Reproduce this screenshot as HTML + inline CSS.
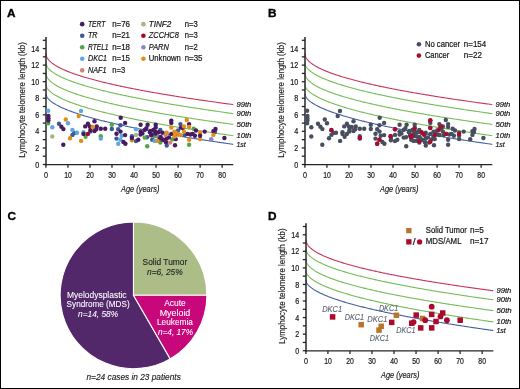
<!DOCTYPE html>
<html><head><meta charset="utf-8"><style>
html,body{margin:0;padding:0;background:#fff;}
svg{display:block;font-family:"Liberation Sans", sans-serif;will-change:transform;}
</style></head><body>
<svg width="520" height="389" viewBox="0 0 520 389">
<rect x="0" y="0" width="520" height="389" fill="#fff"/>
<text x="7.10" y="17.00" font-size="11.8" text-anchor="start" font-style="normal" font-weight="bold" fill="#000" stroke="#000" stroke-width="0.35">A</text>
<text x="267.90" y="17.30" font-size="11.8" text-anchor="start" font-style="normal" font-weight="bold" fill="#000" stroke="#000" stroke-width="0.35">B</text>
<text x="7.40" y="220.40" font-size="11.8" text-anchor="start" font-style="normal" font-weight="bold" fill="#000" stroke="#000" stroke-width="0.35">C</text>
<text x="267.90" y="219.90" font-size="11.8" text-anchor="start" font-style="normal" font-weight="bold" fill="#000" stroke="#000" stroke-width="0.35">D</text>
<path d="M46.00,53.32 L46.22,55.29 L46.44,56.07 L46.66,56.66 L46.88,57.16 L47.10,57.60 L47.32,57.99 L47.54,58.36 L47.76,58.69 L47.98,59.01 L48.20,59.30 L48.42,59.58 L48.64,59.85 L48.86,60.11 L49.08,60.36 L49.30,60.60 L49.52,60.83 L49.75,61.05 L49.97,61.27 L50.19,61.48 L50.41,61.68 L50.85,62.08 L51.76,62.84 L52.68,63.55 L53.60,64.20 L54.51,64.82 L55.43,65.40 L56.35,65.96 L57.26,66.49 L58.18,66.99 L59.10,67.48 L60.01,67.95 L60.93,68.41 L61.85,68.85 L62.76,69.28 L63.68,69.69 L64.60,70.10 L65.51,70.49 L66.43,70.88 L67.35,71.26 L68.26,71.62 L69.18,71.98 L70.10,72.34 L71.01,72.68 L71.93,73.02 L72.85,73.36 L73.76,73.69 L74.68,74.01 L75.60,74.32 L76.51,74.64 L77.43,74.94 L78.35,75.25 L79.26,75.54 L80.18,75.84 L81.10,76.13 L82.01,76.42 L82.93,76.70 L83.85,76.98 L84.76,77.25 L85.68,77.52 L86.59,77.79 L87.51,78.06 L88.43,78.32 L89.34,78.58 L90.26,78.84 L91.18,79.09 L92.09,79.34 L93.01,79.59 L93.93,79.84 L94.84,80.08 L95.76,80.32 L96.68,80.56 L97.59,80.80 L98.51,81.03 L99.43,81.27 L100.34,81.50 L101.26,81.73 L102.18,81.95 L103.09,82.18 L104.01,82.40 L104.93,82.62 L105.84,82.84 L106.76,83.06 L107.68,83.28 L108.59,83.49 L109.51,83.70 L110.43,83.91 L111.34,84.12 L112.26,84.33 L113.18,84.54 L114.09,84.74 L115.01,84.95 L115.93,85.15 L116.84,85.35 L117.76,85.55 L118.68,85.75 L119.59,85.95 L120.51,86.14 L121.43,86.34 L122.34,86.53 L123.26,86.72 L124.18,86.91 L125.09,87.10 L126.01,87.29 L126.93,87.48 L127.84,87.67 L128.76,87.85 L129.68,88.04 L130.59,88.22 L131.51,88.40 L132.43,88.58 L133.34,88.76 L134.26,88.94 L135.18,89.12 L136.09,89.30 L137.01,89.47 L137.93,89.65 L138.84,89.82 L139.76,90.00 L140.68,90.17 L141.59,90.34 L142.51,90.51 L143.43,90.68 L144.34,90.85 L145.26,91.02 L146.18,91.19 L147.09,91.36 L148.01,91.52 L148.93,91.69 L149.84,91.85 L150.76,92.02 L151.68,92.18 L152.59,92.34 L153.51,92.51 L154.43,92.67 L155.34,92.83 L156.26,92.99 L157.18,93.15 L158.09,93.31 L159.01,93.46 L159.92,93.62 L160.84,93.78 L161.76,93.93 L162.67,94.09 L163.59,94.24 L164.51,94.40 L165.42,94.55 L166.34,94.70 L167.26,94.85 L168.17,95.01 L169.09,95.16 L170.01,95.31 L170.92,95.46 L171.84,95.61 L172.76,95.75 L173.67,95.90 L174.59,96.05 L175.51,96.20 L176.42,96.34 L177.34,96.49 L178.26,96.63 L179.17,96.78 L180.09,96.92 L181.01,97.07 L181.92,97.21 L182.84,97.35 L183.76,97.50 L184.67,97.64 L185.59,97.78 L186.51,97.92 L187.42,98.06 L188.34,98.20 L189.26,98.34 L190.17,98.48 L191.09,98.62 L192.01,98.76 L192.92,98.89 L193.84,99.03 L194.76,99.17 L195.67,99.30 L196.59,99.44 L197.51,99.58 L198.42,99.71 L199.34,99.85 L200.26,99.98 L201.17,100.11 L202.09,100.25 L203.01,100.38 L203.92,100.51 L204.84,100.64 L205.76,100.78 L206.67,100.91 L207.59,101.04 L208.51,101.17 L209.42,101.30 L210.34,101.43 L211.26,101.56 L212.17,101.69 L213.09,101.82 L214.01,101.95 L214.92,102.07 L215.84,102.20 L216.76,102.33 L217.67,102.46 L218.59,102.58 L219.51,102.71 L220.42,102.83 L221.34,102.96 L222.26,103.09 L223.17,103.21 L224.09,103.33 L225.01,103.46 L225.92,103.58 L226.84,103.71 L227.76,103.83 L228.67,103.95 L229.59,104.08 L230.51,104.20 L231.42,104.32 L232.34,104.44 L233.25,104.56" fill="none" stroke="#c63658" stroke-width="1.1"/>
<path d="M46.00,62.73 L46.22,64.41 L46.44,65.12 L46.66,65.66 L46.88,66.12 L47.10,66.53 L47.32,66.89 L47.54,67.23 L47.76,67.54 L47.98,67.84 L48.20,68.12 L48.42,68.38 L48.64,68.64 L48.86,68.88 L49.08,69.11 L49.30,69.34 L49.52,69.56 L49.75,69.77 L49.97,69.98 L50.19,70.18 L50.41,70.38 L50.85,70.75 L51.76,71.49 L52.68,72.16 L53.60,72.80 L54.51,73.39 L55.43,73.96 L56.35,74.50 L57.26,75.02 L58.18,75.51 L59.10,75.99 L60.01,76.45 L60.93,76.90 L61.85,77.33 L62.76,77.75 L63.68,78.16 L64.60,78.56 L65.51,78.95 L66.43,79.33 L67.35,79.70 L68.26,80.07 L69.18,80.42 L70.10,80.77 L71.01,81.12 L71.93,81.46 L72.85,81.79 L73.76,82.11 L74.68,82.43 L75.60,82.75 L76.51,83.06 L77.43,83.37 L78.35,83.67 L79.26,83.97 L80.18,84.26 L81.10,84.55 L82.01,84.84 L82.93,85.12 L83.85,85.40 L84.76,85.68 L85.68,85.95 L86.59,86.22 L87.51,86.48 L88.43,86.75 L89.34,87.01 L90.26,87.27 L91.18,87.52 L92.09,87.78 L93.01,88.03 L93.93,88.28 L94.84,88.52 L95.76,88.76 L96.68,89.01 L97.59,89.24 L98.51,89.48 L99.43,89.72 L100.34,89.95 L101.26,90.18 L102.18,90.41 L103.09,90.64 L104.01,90.86 L104.93,91.09 L105.84,91.31 L106.76,91.53 L107.68,91.75 L108.59,91.97 L109.51,92.18 L110.43,92.40 L111.34,92.61 L112.26,92.82 L113.18,93.03 L114.09,93.24 L115.01,93.44 L115.93,93.65 L116.84,93.85 L117.76,94.06 L118.68,94.26 L119.59,94.46 L120.51,94.66 L121.43,94.86 L122.34,95.05 L123.26,95.25 L124.18,95.44 L125.09,95.64 L126.01,95.83 L126.93,96.02 L127.84,96.21 L128.76,96.40 L129.68,96.59 L130.59,96.77 L131.51,96.96 L132.43,97.15 L133.34,97.33 L134.26,97.51 L135.18,97.69 L136.09,97.88 L137.01,98.06 L137.93,98.24 L138.84,98.41 L139.76,98.59 L140.68,98.77 L141.59,98.94 L142.51,99.12 L143.43,99.29 L144.34,99.47 L145.26,99.64 L146.18,99.81 L147.09,99.98 L148.01,100.15 L148.93,100.32 L149.84,100.49 L150.76,100.66 L151.68,100.83 L152.59,100.99 L153.51,101.16 L154.43,101.33 L155.34,101.49 L156.26,101.65 L157.18,101.82 L158.09,101.98 L159.01,102.14 L159.92,102.30 L160.84,102.46 L161.76,102.62 L162.67,102.78 L163.59,102.94 L164.51,103.10 L165.42,103.26 L166.34,103.41 L167.26,103.57 L168.17,103.73 L169.09,103.88 L170.01,104.04 L170.92,104.19 L171.84,104.34 L172.76,104.50 L173.67,104.65 L174.59,104.80 L175.51,104.95 L176.42,105.10 L177.34,105.25 L178.26,105.40 L179.17,105.55 L180.09,105.70 L181.01,105.85 L181.92,106.00 L182.84,106.15 L183.76,106.29 L184.67,106.44 L185.59,106.58 L186.51,106.73 L187.42,106.87 L188.34,107.02 L189.26,107.16 L190.17,107.31 L191.09,107.45 L192.01,107.59 L192.92,107.73 L193.84,107.88 L194.76,108.02 L195.67,108.16 L196.59,108.30 L197.51,108.44 L198.42,108.58 L199.34,108.72 L200.26,108.86 L201.17,108.99 L202.09,109.13 L203.01,109.27 L203.92,109.41 L204.84,109.54 L205.76,109.68 L206.67,109.82 L207.59,109.95 L208.51,110.09 L209.42,110.22 L210.34,110.36 L211.26,110.49 L212.17,110.62 L213.09,110.76 L214.01,110.89 L214.92,111.02 L215.84,111.16 L216.76,111.29 L217.67,111.42 L218.59,111.55 L219.51,111.68 L220.42,111.81 L221.34,111.94 L222.26,112.07 L223.17,112.20 L224.09,112.33 L225.01,112.46 L225.92,112.59 L226.84,112.72 L227.76,112.84 L228.67,112.97 L229.59,113.10 L230.51,113.23 L231.42,113.35 L232.34,113.48 L233.25,113.61" fill="none" stroke="#74bc55" stroke-width="1.1"/>
<path d="M46.00,73.17 L46.22,75.01 L46.44,75.76 L46.66,76.34 L46.88,76.82 L47.10,77.24 L47.32,77.63 L47.54,77.98 L47.76,78.31 L47.98,78.61 L48.20,78.90 L48.42,79.18 L48.64,79.44 L48.86,79.69 L49.08,79.94 L49.30,80.17 L49.52,80.40 L49.75,80.62 L49.97,80.83 L50.19,81.04 L50.41,81.24 L50.85,81.63 L51.76,82.38 L52.68,83.08 L53.60,83.72 L54.51,84.33 L55.43,84.91 L56.35,85.46 L57.26,85.99 L58.18,86.49 L59.10,86.98 L60.01,87.44 L60.93,87.90 L61.85,88.34 L62.76,88.76 L63.68,89.18 L64.60,89.58 L65.51,89.97 L66.43,90.36 L67.35,90.74 L68.26,91.10 L69.18,91.46 L70.10,91.82 L71.01,92.16 L71.93,92.50 L72.85,92.84 L73.76,93.17 L74.68,93.49 L75.60,93.81 L76.51,94.12 L77.43,94.43 L78.35,94.73 L79.26,95.03 L80.18,95.32 L81.10,95.62 L82.01,95.90 L82.93,96.19 L83.85,96.47 L84.76,96.74 L85.68,97.02 L86.59,97.29 L87.51,97.55 L88.43,97.82 L89.34,98.08 L90.26,98.34 L91.18,98.59 L92.09,98.84 L93.01,99.10 L93.93,99.34 L94.84,99.59 L95.76,99.83 L96.68,100.07 L97.59,100.31 L98.51,100.55 L99.43,100.78 L100.34,101.02 L101.26,101.25 L102.18,101.47 L103.09,101.70 L104.01,101.93 L104.93,102.15 L105.84,102.37 L106.76,102.59 L107.68,102.81 L108.59,103.03 L109.51,103.24 L110.43,103.45 L111.34,103.66 L112.26,103.87 L113.18,104.08 L114.09,104.29 L115.01,104.50 L115.93,104.70 L116.84,104.90 L117.76,105.11 L118.68,105.31 L119.59,105.51 L120.51,105.70 L121.43,105.90 L122.34,106.10 L123.26,106.29 L124.18,106.48 L125.09,106.68 L126.01,106.87 L126.93,107.06 L127.84,107.24 L128.76,107.43 L129.68,107.62 L130.59,107.80 L131.51,107.99 L132.43,108.17 L133.34,108.35 L134.26,108.54 L135.18,108.72 L136.09,108.90 L137.01,109.08 L137.93,109.25 L138.84,109.43 L139.76,109.61 L140.68,109.78 L141.59,109.96 L142.51,110.13 L143.43,110.30 L144.34,110.47 L145.26,110.64 L146.18,110.82 L147.09,110.98 L148.01,111.15 L148.93,111.32 L149.84,111.49 L150.76,111.65 L151.68,111.82 L152.59,111.99 L153.51,112.15 L154.43,112.31 L155.34,112.48 L156.26,112.64 L157.18,112.80 L158.09,112.96 L159.01,113.12 L159.92,113.28 L160.84,113.44 L161.76,113.60 L162.67,113.75 L163.59,113.91 L164.51,114.07 L165.42,114.22 L166.34,114.38 L167.26,114.53 L168.17,114.69 L169.09,114.84 L170.01,114.99 L170.92,115.14 L171.84,115.30 L172.76,115.45 L173.67,115.60 L174.59,115.75 L175.51,115.90 L176.42,116.05 L177.34,116.19 L178.26,116.34 L179.17,116.49 L180.09,116.64 L181.01,116.78 L181.92,116.93 L182.84,117.07 L183.76,117.22 L184.67,117.36 L185.59,117.51 L186.51,117.65 L187.42,117.79 L188.34,117.93 L189.26,118.08 L190.17,118.22 L191.09,118.36 L192.01,118.50 L192.92,118.64 L193.84,118.78 L194.76,118.92 L195.67,119.06 L196.59,119.19 L197.51,119.33 L198.42,119.47 L199.34,119.61 L200.26,119.74 L201.17,119.88 L202.09,120.02 L203.01,120.15 L203.92,120.29 L204.84,120.42 L205.76,120.56 L206.67,120.69 L207.59,120.82 L208.51,120.96 L209.42,121.09 L210.34,121.22 L211.26,121.35 L212.17,121.48 L213.09,121.62 L214.01,121.75 L214.92,121.88 L215.84,122.01 L216.76,122.14 L217.67,122.27 L218.59,122.39 L219.51,122.52 L220.42,122.65 L221.34,122.78 L222.26,122.91 L223.17,123.04 L224.09,123.16 L225.01,123.29 L225.92,123.42 L226.84,123.54 L227.76,123.67 L228.67,123.79 L229.59,123.92 L230.51,124.04 L231.42,124.17 L232.34,124.29 L233.25,124.41" fill="none" stroke="#74bc55" stroke-width="1.1"/>
<path d="M46.00,84.31 L46.22,85.88 L46.44,86.56 L46.66,87.09 L46.88,87.53 L47.10,87.93 L47.32,88.29 L47.54,88.62 L47.76,88.92 L47.98,89.21 L48.20,89.49 L48.42,89.75 L48.64,90.00 L48.86,90.24 L49.08,90.47 L49.30,90.69 L49.52,90.91 L49.75,91.12 L49.97,91.33 L50.19,91.52 L50.41,91.72 L50.85,92.09 L51.76,92.82 L52.68,93.50 L53.60,94.13 L54.51,94.72 L55.43,95.29 L56.35,95.82 L57.26,96.34 L58.18,96.84 L59.10,97.32 L60.01,97.78 L60.93,98.23 L61.85,98.66 L62.76,99.09 L63.68,99.50 L64.60,99.90 L65.51,100.29 L66.43,100.67 L67.35,101.05 L68.26,101.42 L69.18,101.78 L70.10,102.13 L71.01,102.48 L71.93,102.82 L72.85,103.16 L73.76,103.48 L74.68,103.81 L75.60,104.13 L76.51,104.44 L77.43,104.75 L78.35,105.06 L79.26,105.36 L80.18,105.66 L81.10,105.95 L82.01,106.24 L82.93,106.53 L83.85,106.81 L84.76,107.09 L85.68,107.37 L86.59,107.64 L87.51,107.91 L88.43,108.18 L89.34,108.45 L90.26,108.71 L91.18,108.97 L92.09,109.23 L93.01,109.48 L93.93,109.73 L94.84,109.98 L95.76,110.23 L96.68,110.48 L97.59,110.72 L98.51,110.96 L99.43,111.20 L100.34,111.44 L101.26,111.67 L102.18,111.91 L103.09,112.14 L104.01,112.37 L104.93,112.60 L105.84,112.82 L106.76,113.05 L107.68,113.27 L108.59,113.49 L109.51,113.71 L110.43,113.93 L111.34,114.15 L112.26,114.36 L113.18,114.58 L114.09,114.79 L115.01,115.00 L115.93,115.21 L116.84,115.42 L117.76,115.63 L118.68,115.83 L119.59,116.04 L120.51,116.24 L121.43,116.45 L122.34,116.65 L123.26,116.85 L124.18,117.05 L125.09,117.24 L126.01,117.44 L126.93,117.64 L127.84,117.83 L128.76,118.02 L129.68,118.22 L130.59,118.41 L131.51,118.60 L132.43,118.79 L133.34,118.98 L134.26,119.16 L135.18,119.35 L136.09,119.54 L137.01,119.72 L137.93,119.90 L138.84,120.09 L139.76,120.27 L140.68,120.45 L141.59,120.63 L142.51,120.81 L143.43,120.99 L144.34,121.17 L145.26,121.34 L146.18,121.52 L147.09,121.70 L148.01,121.87 L148.93,122.04 L149.84,122.22 L150.76,122.39 L151.68,122.56 L152.59,122.73 L153.51,122.90 L154.43,123.07 L155.34,123.24 L156.26,123.41 L157.18,123.58 L158.09,123.74 L159.01,123.91 L159.92,124.08 L160.84,124.24 L161.76,124.41 L162.67,124.57 L163.59,124.73 L164.51,124.89 L165.42,125.06 L166.34,125.22 L167.26,125.38 L168.17,125.54 L169.09,125.70 L170.01,125.86 L170.92,126.02 L171.84,126.17 L172.76,126.33 L173.67,126.49 L174.59,126.64 L175.51,126.80 L176.42,126.95 L177.34,127.11 L178.26,127.26 L179.17,127.42 L180.09,127.57 L181.01,127.72 L181.92,127.87 L182.84,128.03 L183.76,128.18 L184.67,128.33 L185.59,128.48 L186.51,128.63 L187.42,128.78 L188.34,128.92 L189.26,129.07 L190.17,129.22 L191.09,129.37 L192.01,129.51 L192.92,129.66 L193.84,129.81 L194.76,129.95 L195.67,130.10 L196.59,130.24 L197.51,130.39 L198.42,130.53 L199.34,130.67 L200.26,130.82 L201.17,130.96 L202.09,131.10 L203.01,131.24 L203.92,131.38 L204.84,131.52 L205.76,131.67 L206.67,131.81 L207.59,131.95 L208.51,132.08 L209.42,132.22 L210.34,132.36 L211.26,132.50 L212.17,132.64 L213.09,132.78 L214.01,132.91 L214.92,133.05 L215.84,133.19 L216.76,133.32 L217.67,133.46 L218.59,133.59 L219.51,133.73 L220.42,133.86 L221.34,134.00 L222.26,134.13 L223.17,134.27 L224.09,134.40 L225.01,134.53 L225.92,134.66 L226.84,134.80 L227.76,134.93 L228.67,135.06 L229.59,135.19 L230.51,135.32 L231.42,135.45 L232.34,135.58 L233.25,135.71" fill="none" stroke="#74bc55" stroke-width="1.1"/>
<path d="M46.00,93.73 L46.22,95.21 L46.44,95.86 L46.66,96.37 L46.88,96.80 L47.10,97.18 L47.32,97.52 L47.54,97.84 L47.76,98.14 L47.98,98.42 L48.20,98.68 L48.42,98.94 L48.64,99.18 L48.86,99.41 L49.08,99.64 L49.30,99.86 L49.52,100.07 L49.75,100.27 L49.97,100.47 L50.19,100.66 L50.41,100.85 L50.85,101.21 L51.76,101.92 L52.68,102.58 L53.60,103.20 L54.51,103.78 L55.43,104.33 L56.35,104.86 L57.26,105.36 L58.18,105.85 L59.10,106.32 L60.01,106.77 L60.93,107.21 L61.85,107.64 L62.76,108.05 L63.68,108.46 L64.60,108.85 L65.51,109.24 L66.43,109.62 L67.35,109.98 L68.26,110.35 L69.18,110.70 L70.10,111.05 L71.01,111.39 L71.93,111.73 L72.85,112.06 L73.76,112.38 L74.68,112.70 L75.60,113.01 L76.51,113.32 L77.43,113.63 L78.35,113.93 L79.26,114.23 L80.18,114.52 L81.10,114.81 L82.01,115.10 L82.93,115.38 L83.85,115.66 L84.76,115.94 L85.68,116.21 L86.59,116.48 L87.51,116.75 L88.43,117.01 L89.34,117.27 L90.26,117.53 L91.18,117.79 L92.09,118.04 L93.01,118.29 L93.93,118.54 L94.84,118.79 L95.76,119.04 L96.68,119.28 L97.59,119.52 L98.51,119.76 L99.43,119.99 L100.34,120.23 L101.26,120.46 L102.18,120.69 L103.09,120.92 L104.01,121.15 L104.93,121.38 L105.84,121.60 L106.76,121.82 L107.68,122.04 L108.59,122.26 L109.51,122.48 L110.43,122.70 L111.34,122.91 L112.26,123.12 L113.18,123.34 L114.09,123.55 L115.01,123.76 L115.93,123.96 L116.84,124.17 L117.76,124.38 L118.68,124.58 L119.59,124.78 L120.51,124.98 L121.43,125.19 L122.34,125.38 L123.26,125.58 L124.18,125.78 L125.09,125.98 L126.01,126.17 L126.93,126.36 L127.84,126.56 L128.76,126.75 L129.68,126.94 L130.59,127.13 L131.51,127.32 L132.43,127.51 L133.34,127.69 L134.26,127.88 L135.18,128.06 L136.09,128.25 L137.01,128.43 L137.93,128.61 L138.84,128.79 L139.76,128.98 L140.68,129.16 L141.59,129.33 L142.51,129.51 L143.43,129.69 L144.34,129.87 L145.26,130.04 L146.18,130.22 L147.09,130.39 L148.01,130.56 L148.93,130.74 L149.84,130.91 L150.76,131.08 L151.68,131.25 L152.59,131.42 L153.51,131.59 L154.43,131.76 L155.34,131.93 L156.26,132.09 L157.18,132.26 L158.09,132.43 L159.01,132.59 L159.92,132.76 L160.84,132.92 L161.76,133.08 L162.67,133.25 L163.59,133.41 L164.51,133.57 L165.42,133.73 L166.34,133.89 L167.26,134.05 L168.17,134.21 L169.09,134.37 L170.01,134.53 L170.92,134.68 L171.84,134.84 L172.76,135.00 L173.67,135.15 L174.59,135.31 L175.51,135.46 L176.42,135.62 L177.34,135.77 L178.26,135.92 L179.17,136.08 L180.09,136.23 L181.01,136.38 L181.92,136.53 L182.84,136.68 L183.76,136.83 L184.67,136.98 L185.59,137.13 L186.51,137.28 L187.42,137.43 L188.34,137.58 L189.26,137.72 L190.17,137.87 L191.09,138.02 L192.01,138.16 L192.92,138.31 L193.84,138.45 L194.76,138.60 L195.67,138.74 L196.59,138.89 L197.51,139.03 L198.42,139.17 L199.34,139.32 L200.26,139.46 L201.17,139.60 L202.09,139.74 L203.01,139.88 L203.92,140.02 L204.84,140.16 L205.76,140.30 L206.67,140.44 L207.59,140.58 L208.51,140.72 L209.42,140.86 L210.34,141.00 L211.26,141.14 L212.17,141.27 L213.09,141.41 L214.01,141.55 L214.92,141.68 L215.84,141.82 L216.76,141.95 L217.67,142.09 L218.59,142.22 L219.51,142.36 L220.42,142.49 L221.34,142.63 L222.26,142.76 L223.17,142.89 L224.09,143.03 L225.01,143.16 L225.92,143.29 L226.84,143.42 L227.76,143.55 L228.67,143.69 L229.59,143.82 L230.51,143.95 L231.42,144.08 L232.34,144.21 L233.25,144.34" fill="none" stroke="#42609e" stroke-width="1.1"/>
<line x1="46" y1="37" x2="46" y2="165.3" stroke="#262626" stroke-width="1.5"/>
<line x1="45.35" y1="164.65" x2="233.3" y2="164.65" stroke="#262626" stroke-width="1.3"/>
<line x1="42.8" y1="164.50" x2="46" y2="164.50" stroke="#262626" stroke-width="1.3"/>
<text x="39.20" y="167.60" font-size="8.7" text-anchor="end" font-style="normal" font-weight="normal" fill="#151515" stroke="#151515" stroke-width="0.2" textLength="4.00" lengthAdjust="spacingAndGlyphs">0</text>
<line x1="42.8" y1="156.22" x2="46" y2="156.22" stroke="#262626" stroke-width="1.3"/>
<line x1="42.8" y1="147.94" x2="46" y2="147.94" stroke="#262626" stroke-width="1.3"/>
<text x="39.20" y="151.04" font-size="8.7" text-anchor="end" font-style="normal" font-weight="normal" fill="#151515" stroke="#151515" stroke-width="0.2" textLength="4.00" lengthAdjust="spacingAndGlyphs">2</text>
<line x1="42.8" y1="139.66" x2="46" y2="139.66" stroke="#262626" stroke-width="1.3"/>
<line x1="42.8" y1="131.38" x2="46" y2="131.38" stroke="#262626" stroke-width="1.3"/>
<text x="39.20" y="134.48" font-size="8.7" text-anchor="end" font-style="normal" font-weight="normal" fill="#151515" stroke="#151515" stroke-width="0.2" textLength="4.00" lengthAdjust="spacingAndGlyphs">4</text>
<line x1="42.8" y1="123.10" x2="46" y2="123.10" stroke="#262626" stroke-width="1.3"/>
<line x1="42.8" y1="114.82" x2="46" y2="114.82" stroke="#262626" stroke-width="1.3"/>
<text x="39.20" y="117.92" font-size="8.7" text-anchor="end" font-style="normal" font-weight="normal" fill="#151515" stroke="#151515" stroke-width="0.2" textLength="4.00" lengthAdjust="spacingAndGlyphs">6</text>
<line x1="42.8" y1="106.54" x2="46" y2="106.54" stroke="#262626" stroke-width="1.3"/>
<line x1="42.8" y1="98.26" x2="46" y2="98.26" stroke="#262626" stroke-width="1.3"/>
<text x="39.20" y="101.36" font-size="8.7" text-anchor="end" font-style="normal" font-weight="normal" fill="#151515" stroke="#151515" stroke-width="0.2" textLength="4.00" lengthAdjust="spacingAndGlyphs">8</text>
<line x1="42.8" y1="89.98" x2="46" y2="89.98" stroke="#262626" stroke-width="1.3"/>
<line x1="42.8" y1="81.70" x2="46" y2="81.70" stroke="#262626" stroke-width="1.3"/>
<text x="39.20" y="84.80" font-size="8.7" text-anchor="end" font-style="normal" font-weight="normal" fill="#151515" stroke="#151515" stroke-width="0.2" textLength="7.90" lengthAdjust="spacingAndGlyphs">10</text>
<line x1="42.8" y1="73.42" x2="46" y2="73.42" stroke="#262626" stroke-width="1.3"/>
<line x1="42.8" y1="65.14" x2="46" y2="65.14" stroke="#262626" stroke-width="1.3"/>
<text x="39.20" y="68.24" font-size="8.7" text-anchor="end" font-style="normal" font-weight="normal" fill="#151515" stroke="#151515" stroke-width="0.2" textLength="7.90" lengthAdjust="spacingAndGlyphs">12</text>
<line x1="42.8" y1="56.86" x2="46" y2="56.86" stroke="#262626" stroke-width="1.3"/>
<line x1="42.8" y1="48.58" x2="46" y2="48.58" stroke="#262626" stroke-width="1.3"/>
<text x="39.20" y="51.68" font-size="8.7" text-anchor="end" font-style="normal" font-weight="normal" fill="#151515" stroke="#151515" stroke-width="0.2" textLength="7.90" lengthAdjust="spacingAndGlyphs">14</text>
<line x1="42.8" y1="40.30" x2="46" y2="40.30" stroke="#262626" stroke-width="1.3"/>
<line x1="45.90" y1="164.65" x2="45.90" y2="167.8" stroke="#262626" stroke-width="1.3"/>
<text x="45.90" y="178.00" font-size="8.7" text-anchor="middle" font-style="normal" font-weight="normal" fill="#151515" stroke="#151515" stroke-width="0.2" textLength="4.00" lengthAdjust="spacingAndGlyphs">0</text>
<line x1="67.93" y1="164.65" x2="67.93" y2="167.8" stroke="#262626" stroke-width="1.3"/>
<text x="67.93" y="178.00" font-size="8.7" text-anchor="middle" font-style="normal" font-weight="normal" fill="#151515" stroke="#151515" stroke-width="0.2" textLength="7.60" lengthAdjust="spacingAndGlyphs">10</text>
<line x1="89.96" y1="164.65" x2="89.96" y2="167.8" stroke="#262626" stroke-width="1.3"/>
<text x="89.96" y="178.00" font-size="8.7" text-anchor="middle" font-style="normal" font-weight="normal" fill="#151515" stroke="#151515" stroke-width="0.2" textLength="7.60" lengthAdjust="spacingAndGlyphs">20</text>
<line x1="111.99" y1="164.65" x2="111.99" y2="167.8" stroke="#262626" stroke-width="1.3"/>
<text x="111.99" y="178.00" font-size="8.7" text-anchor="middle" font-style="normal" font-weight="normal" fill="#151515" stroke="#151515" stroke-width="0.2" textLength="7.60" lengthAdjust="spacingAndGlyphs">30</text>
<line x1="134.02" y1="164.65" x2="134.02" y2="167.8" stroke="#262626" stroke-width="1.3"/>
<text x="134.02" y="178.00" font-size="8.7" text-anchor="middle" font-style="normal" font-weight="normal" fill="#151515" stroke="#151515" stroke-width="0.2" textLength="7.60" lengthAdjust="spacingAndGlyphs">40</text>
<line x1="156.05" y1="164.65" x2="156.05" y2="167.8" stroke="#262626" stroke-width="1.3"/>
<text x="156.05" y="178.00" font-size="8.7" text-anchor="middle" font-style="normal" font-weight="normal" fill="#151515" stroke="#151515" stroke-width="0.2" textLength="7.60" lengthAdjust="spacingAndGlyphs">50</text>
<line x1="178.08" y1="164.65" x2="178.08" y2="167.8" stroke="#262626" stroke-width="1.3"/>
<text x="178.08" y="178.00" font-size="8.7" text-anchor="middle" font-style="normal" font-weight="normal" fill="#151515" stroke="#151515" stroke-width="0.2" textLength="7.60" lengthAdjust="spacingAndGlyphs">60</text>
<line x1="200.11" y1="164.65" x2="200.11" y2="167.8" stroke="#262626" stroke-width="1.3"/>
<text x="200.11" y="178.00" font-size="8.7" text-anchor="middle" font-style="normal" font-weight="normal" fill="#151515" stroke="#151515" stroke-width="0.2" textLength="7.60" lengthAdjust="spacingAndGlyphs">70</text>
<line x1="222.14" y1="164.65" x2="222.14" y2="167.8" stroke="#262626" stroke-width="1.3"/>
<text x="222.14" y="178.00" font-size="8.7" text-anchor="middle" font-style="normal" font-weight="normal" fill="#151515" stroke="#151515" stroke-width="0.2" textLength="7.60" lengthAdjust="spacingAndGlyphs">80</text>
<text transform="translate(24.8,157.7) rotate(-90)" x="0" y="0" font-size="9.6" fill="#1a1a1a" stroke="#1a1a1a" stroke-width="0.15" textLength="115.5" lengthAdjust="spacingAndGlyphs">Lymphocyte telomere length (kb)</text>
<text x="121.00" y="191.50" font-size="8.8" text-anchor="start" font-style="italic" font-weight="normal" fill="#151515" stroke="#151515" stroke-width="0.15" textLength="38.40" lengthAdjust="spacingAndGlyphs">Age (years)</text>
<text x="236.40" y="107.20" font-size="8.0" text-anchor="start" font-style="italic" font-weight="normal" fill="#151515" stroke="#151515" stroke-width="0.2" textLength="14.90" lengthAdjust="spacingAndGlyphs">99th</text>
<text x="236.40" y="115.80" font-size="8.0" text-anchor="start" font-style="italic" font-weight="normal" fill="#151515" stroke="#151515" stroke-width="0.2" textLength="14.90" lengthAdjust="spacingAndGlyphs">90th</text>
<text x="236.40" y="127.00" font-size="8.0" text-anchor="start" font-style="italic" font-weight="normal" fill="#151515" stroke="#151515" stroke-width="0.2" textLength="15.30" lengthAdjust="spacingAndGlyphs">50th</text>
<text x="236.40" y="137.70" font-size="8.0" text-anchor="start" font-style="italic" font-weight="normal" fill="#151515" stroke="#151515" stroke-width="0.2" textLength="14.90" lengthAdjust="spacingAndGlyphs">10th</text>
<text x="236.40" y="146.80" font-size="8.0" text-anchor="start" font-style="italic" font-weight="normal" fill="#151515" stroke="#151515" stroke-width="0.2" textLength="9.40" lengthAdjust="spacingAndGlyphs">1st</text>
<path d="M305.00,53.32 L305.22,55.29 L305.44,56.07 L305.66,56.66 L305.88,57.16 L306.10,57.60 L306.32,57.99 L306.54,58.36 L306.76,58.69 L306.98,59.01 L307.20,59.30 L307.42,59.58 L307.64,59.85 L307.86,60.11 L308.08,60.36 L308.30,60.60 L308.52,60.83 L308.75,61.05 L308.97,61.27 L309.19,61.48 L309.41,61.68 L309.85,62.08 L310.76,62.84 L311.68,63.55 L312.60,64.20 L313.51,64.82 L314.43,65.40 L315.35,65.96 L316.26,66.49 L317.18,66.99 L318.10,67.48 L319.01,67.95 L319.93,68.41 L320.85,68.85 L321.76,69.28 L322.68,69.69 L323.60,70.10 L324.51,70.49 L325.43,70.88 L326.35,71.26 L327.26,71.62 L328.18,71.98 L329.10,72.34 L330.01,72.68 L330.93,73.02 L331.85,73.36 L332.76,73.69 L333.68,74.01 L334.60,74.32 L335.51,74.64 L336.43,74.94 L337.35,75.25 L338.26,75.54 L339.18,75.84 L340.10,76.13 L341.01,76.42 L341.93,76.70 L342.85,76.98 L343.76,77.25 L344.68,77.52 L345.59,77.79 L346.51,78.06 L347.43,78.32 L348.34,78.58 L349.26,78.84 L350.18,79.09 L351.09,79.34 L352.01,79.59 L352.93,79.84 L353.84,80.08 L354.76,80.32 L355.68,80.56 L356.59,80.80 L357.51,81.03 L358.43,81.27 L359.34,81.50 L360.26,81.73 L361.18,81.95 L362.09,82.18 L363.01,82.40 L363.93,82.62 L364.84,82.84 L365.76,83.06 L366.68,83.28 L367.59,83.49 L368.51,83.70 L369.43,83.91 L370.34,84.12 L371.26,84.33 L372.18,84.54 L373.09,84.74 L374.01,84.95 L374.93,85.15 L375.84,85.35 L376.76,85.55 L377.68,85.75 L378.59,85.95 L379.51,86.14 L380.43,86.34 L381.34,86.53 L382.26,86.72 L383.18,86.91 L384.09,87.10 L385.01,87.29 L385.93,87.48 L386.84,87.67 L387.76,87.85 L388.68,88.04 L389.59,88.22 L390.51,88.40 L391.43,88.58 L392.34,88.76 L393.26,88.94 L394.18,89.12 L395.09,89.30 L396.01,89.47 L396.93,89.65 L397.84,89.82 L398.76,90.00 L399.68,90.17 L400.59,90.34 L401.51,90.51 L402.43,90.68 L403.34,90.85 L404.26,91.02 L405.18,91.19 L406.09,91.36 L407.01,91.52 L407.93,91.69 L408.84,91.85 L409.76,92.02 L410.68,92.18 L411.59,92.34 L412.51,92.51 L413.43,92.67 L414.34,92.83 L415.26,92.99 L416.18,93.15 L417.09,93.31 L418.01,93.46 L418.92,93.62 L419.84,93.78 L420.76,93.93 L421.67,94.09 L422.59,94.24 L423.51,94.40 L424.42,94.55 L425.34,94.70 L426.26,94.85 L427.17,95.01 L428.09,95.16 L429.01,95.31 L429.92,95.46 L430.84,95.61 L431.76,95.75 L432.67,95.90 L433.59,96.05 L434.51,96.20 L435.42,96.34 L436.34,96.49 L437.26,96.63 L438.17,96.78 L439.09,96.92 L440.01,97.07 L440.92,97.21 L441.84,97.35 L442.76,97.50 L443.67,97.64 L444.59,97.78 L445.51,97.92 L446.42,98.06 L447.34,98.20 L448.26,98.34 L449.17,98.48 L450.09,98.62 L451.01,98.76 L451.92,98.89 L452.84,99.03 L453.76,99.17 L454.67,99.30 L455.59,99.44 L456.51,99.58 L457.42,99.71 L458.34,99.85 L459.26,99.98 L460.17,100.11 L461.09,100.25 L462.01,100.38 L462.92,100.51 L463.84,100.64 L464.76,100.78 L465.67,100.91 L466.59,101.04 L467.51,101.17 L468.42,101.30 L469.34,101.43 L470.26,101.56 L471.17,101.69 L472.09,101.82 L473.01,101.95 L473.92,102.07 L474.84,102.20 L475.76,102.33 L476.67,102.46 L477.59,102.58 L478.51,102.71 L479.42,102.83 L480.34,102.96 L481.26,103.09 L482.17,103.21 L483.09,103.33 L484.01,103.46 L484.92,103.58 L485.84,103.71 L486.76,103.83 L487.67,103.95 L488.59,104.08 L489.51,104.20 L490.42,104.32 L491.34,104.44 L492.25,104.56" fill="none" stroke="#c63658" stroke-width="1.1"/>
<path d="M305.00,62.73 L305.22,64.41 L305.44,65.12 L305.66,65.66 L305.88,66.12 L306.10,66.53 L306.32,66.89 L306.54,67.23 L306.76,67.54 L306.98,67.84 L307.20,68.12 L307.42,68.38 L307.64,68.64 L307.86,68.88 L308.08,69.11 L308.30,69.34 L308.52,69.56 L308.75,69.77 L308.97,69.98 L309.19,70.18 L309.41,70.38 L309.85,70.75 L310.76,71.49 L311.68,72.16 L312.60,72.80 L313.51,73.39 L314.43,73.96 L315.35,74.50 L316.26,75.02 L317.18,75.51 L318.10,75.99 L319.01,76.45 L319.93,76.90 L320.85,77.33 L321.76,77.75 L322.68,78.16 L323.60,78.56 L324.51,78.95 L325.43,79.33 L326.35,79.70 L327.26,80.07 L328.18,80.42 L329.10,80.77 L330.01,81.12 L330.93,81.46 L331.85,81.79 L332.76,82.11 L333.68,82.43 L334.60,82.75 L335.51,83.06 L336.43,83.37 L337.35,83.67 L338.26,83.97 L339.18,84.26 L340.10,84.55 L341.01,84.84 L341.93,85.12 L342.85,85.40 L343.76,85.68 L344.68,85.95 L345.59,86.22 L346.51,86.48 L347.43,86.75 L348.34,87.01 L349.26,87.27 L350.18,87.52 L351.09,87.78 L352.01,88.03 L352.93,88.28 L353.84,88.52 L354.76,88.76 L355.68,89.01 L356.59,89.24 L357.51,89.48 L358.43,89.72 L359.34,89.95 L360.26,90.18 L361.18,90.41 L362.09,90.64 L363.01,90.86 L363.93,91.09 L364.84,91.31 L365.76,91.53 L366.68,91.75 L367.59,91.97 L368.51,92.18 L369.43,92.40 L370.34,92.61 L371.26,92.82 L372.18,93.03 L373.09,93.24 L374.01,93.44 L374.93,93.65 L375.84,93.85 L376.76,94.06 L377.68,94.26 L378.59,94.46 L379.51,94.66 L380.43,94.86 L381.34,95.05 L382.26,95.25 L383.18,95.44 L384.09,95.64 L385.01,95.83 L385.93,96.02 L386.84,96.21 L387.76,96.40 L388.68,96.59 L389.59,96.77 L390.51,96.96 L391.43,97.15 L392.34,97.33 L393.26,97.51 L394.18,97.69 L395.09,97.88 L396.01,98.06 L396.93,98.24 L397.84,98.41 L398.76,98.59 L399.68,98.77 L400.59,98.94 L401.51,99.12 L402.43,99.29 L403.34,99.47 L404.26,99.64 L405.18,99.81 L406.09,99.98 L407.01,100.15 L407.93,100.32 L408.84,100.49 L409.76,100.66 L410.68,100.83 L411.59,100.99 L412.51,101.16 L413.43,101.33 L414.34,101.49 L415.26,101.65 L416.18,101.82 L417.09,101.98 L418.01,102.14 L418.92,102.30 L419.84,102.46 L420.76,102.62 L421.67,102.78 L422.59,102.94 L423.51,103.10 L424.42,103.26 L425.34,103.41 L426.26,103.57 L427.17,103.73 L428.09,103.88 L429.01,104.04 L429.92,104.19 L430.84,104.34 L431.76,104.50 L432.67,104.65 L433.59,104.80 L434.51,104.95 L435.42,105.10 L436.34,105.25 L437.26,105.40 L438.17,105.55 L439.09,105.70 L440.01,105.85 L440.92,106.00 L441.84,106.15 L442.76,106.29 L443.67,106.44 L444.59,106.58 L445.51,106.73 L446.42,106.87 L447.34,107.02 L448.26,107.16 L449.17,107.31 L450.09,107.45 L451.01,107.59 L451.92,107.73 L452.84,107.88 L453.76,108.02 L454.67,108.16 L455.59,108.30 L456.51,108.44 L457.42,108.58 L458.34,108.72 L459.26,108.86 L460.17,108.99 L461.09,109.13 L462.01,109.27 L462.92,109.41 L463.84,109.54 L464.76,109.68 L465.67,109.82 L466.59,109.95 L467.51,110.09 L468.42,110.22 L469.34,110.36 L470.26,110.49 L471.17,110.62 L472.09,110.76 L473.01,110.89 L473.92,111.02 L474.84,111.16 L475.76,111.29 L476.67,111.42 L477.59,111.55 L478.51,111.68 L479.42,111.81 L480.34,111.94 L481.26,112.07 L482.17,112.20 L483.09,112.33 L484.01,112.46 L484.92,112.59 L485.84,112.72 L486.76,112.84 L487.67,112.97 L488.59,113.10 L489.51,113.23 L490.42,113.35 L491.34,113.48 L492.25,113.61" fill="none" stroke="#74bc55" stroke-width="1.1"/>
<path d="M305.00,73.17 L305.22,75.01 L305.44,75.76 L305.66,76.34 L305.88,76.82 L306.10,77.24 L306.32,77.63 L306.54,77.98 L306.76,78.31 L306.98,78.61 L307.20,78.90 L307.42,79.18 L307.64,79.44 L307.86,79.69 L308.08,79.94 L308.30,80.17 L308.52,80.40 L308.75,80.62 L308.97,80.83 L309.19,81.04 L309.41,81.24 L309.85,81.63 L310.76,82.38 L311.68,83.08 L312.60,83.72 L313.51,84.33 L314.43,84.91 L315.35,85.46 L316.26,85.99 L317.18,86.49 L318.10,86.98 L319.01,87.44 L319.93,87.90 L320.85,88.34 L321.76,88.76 L322.68,89.18 L323.60,89.58 L324.51,89.97 L325.43,90.36 L326.35,90.74 L327.26,91.10 L328.18,91.46 L329.10,91.82 L330.01,92.16 L330.93,92.50 L331.85,92.84 L332.76,93.17 L333.68,93.49 L334.60,93.81 L335.51,94.12 L336.43,94.43 L337.35,94.73 L338.26,95.03 L339.18,95.32 L340.10,95.62 L341.01,95.90 L341.93,96.19 L342.85,96.47 L343.76,96.74 L344.68,97.02 L345.59,97.29 L346.51,97.55 L347.43,97.82 L348.34,98.08 L349.26,98.34 L350.18,98.59 L351.09,98.84 L352.01,99.10 L352.93,99.34 L353.84,99.59 L354.76,99.83 L355.68,100.07 L356.59,100.31 L357.51,100.55 L358.43,100.78 L359.34,101.02 L360.26,101.25 L361.18,101.47 L362.09,101.70 L363.01,101.93 L363.93,102.15 L364.84,102.37 L365.76,102.59 L366.68,102.81 L367.59,103.03 L368.51,103.24 L369.43,103.45 L370.34,103.66 L371.26,103.87 L372.18,104.08 L373.09,104.29 L374.01,104.50 L374.93,104.70 L375.84,104.90 L376.76,105.11 L377.68,105.31 L378.59,105.51 L379.51,105.70 L380.43,105.90 L381.34,106.10 L382.26,106.29 L383.18,106.48 L384.09,106.68 L385.01,106.87 L385.93,107.06 L386.84,107.24 L387.76,107.43 L388.68,107.62 L389.59,107.80 L390.51,107.99 L391.43,108.17 L392.34,108.35 L393.26,108.54 L394.18,108.72 L395.09,108.90 L396.01,109.08 L396.93,109.25 L397.84,109.43 L398.76,109.61 L399.68,109.78 L400.59,109.96 L401.51,110.13 L402.43,110.30 L403.34,110.47 L404.26,110.64 L405.18,110.82 L406.09,110.98 L407.01,111.15 L407.93,111.32 L408.84,111.49 L409.76,111.65 L410.68,111.82 L411.59,111.99 L412.51,112.15 L413.43,112.31 L414.34,112.48 L415.26,112.64 L416.18,112.80 L417.09,112.96 L418.01,113.12 L418.92,113.28 L419.84,113.44 L420.76,113.60 L421.67,113.75 L422.59,113.91 L423.51,114.07 L424.42,114.22 L425.34,114.38 L426.26,114.53 L427.17,114.69 L428.09,114.84 L429.01,114.99 L429.92,115.14 L430.84,115.30 L431.76,115.45 L432.67,115.60 L433.59,115.75 L434.51,115.90 L435.42,116.05 L436.34,116.19 L437.26,116.34 L438.17,116.49 L439.09,116.64 L440.01,116.78 L440.92,116.93 L441.84,117.07 L442.76,117.22 L443.67,117.36 L444.59,117.51 L445.51,117.65 L446.42,117.79 L447.34,117.93 L448.26,118.08 L449.17,118.22 L450.09,118.36 L451.01,118.50 L451.92,118.64 L452.84,118.78 L453.76,118.92 L454.67,119.06 L455.59,119.19 L456.51,119.33 L457.42,119.47 L458.34,119.61 L459.26,119.74 L460.17,119.88 L461.09,120.02 L462.01,120.15 L462.92,120.29 L463.84,120.42 L464.76,120.56 L465.67,120.69 L466.59,120.82 L467.51,120.96 L468.42,121.09 L469.34,121.22 L470.26,121.35 L471.17,121.48 L472.09,121.62 L473.01,121.75 L473.92,121.88 L474.84,122.01 L475.76,122.14 L476.67,122.27 L477.59,122.39 L478.51,122.52 L479.42,122.65 L480.34,122.78 L481.26,122.91 L482.17,123.04 L483.09,123.16 L484.01,123.29 L484.92,123.42 L485.84,123.54 L486.76,123.67 L487.67,123.79 L488.59,123.92 L489.51,124.04 L490.42,124.17 L491.34,124.29 L492.25,124.41" fill="none" stroke="#74bc55" stroke-width="1.1"/>
<path d="M305.00,84.31 L305.22,85.88 L305.44,86.56 L305.66,87.09 L305.88,87.53 L306.10,87.93 L306.32,88.29 L306.54,88.62 L306.76,88.92 L306.98,89.21 L307.20,89.49 L307.42,89.75 L307.64,90.00 L307.86,90.24 L308.08,90.47 L308.30,90.69 L308.52,90.91 L308.75,91.12 L308.97,91.33 L309.19,91.52 L309.41,91.72 L309.85,92.09 L310.76,92.82 L311.68,93.50 L312.60,94.13 L313.51,94.72 L314.43,95.29 L315.35,95.82 L316.26,96.34 L317.18,96.84 L318.10,97.32 L319.01,97.78 L319.93,98.23 L320.85,98.66 L321.76,99.09 L322.68,99.50 L323.60,99.90 L324.51,100.29 L325.43,100.67 L326.35,101.05 L327.26,101.42 L328.18,101.78 L329.10,102.13 L330.01,102.48 L330.93,102.82 L331.85,103.16 L332.76,103.48 L333.68,103.81 L334.60,104.13 L335.51,104.44 L336.43,104.75 L337.35,105.06 L338.26,105.36 L339.18,105.66 L340.10,105.95 L341.01,106.24 L341.93,106.53 L342.85,106.81 L343.76,107.09 L344.68,107.37 L345.59,107.64 L346.51,107.91 L347.43,108.18 L348.34,108.45 L349.26,108.71 L350.18,108.97 L351.09,109.23 L352.01,109.48 L352.93,109.73 L353.84,109.98 L354.76,110.23 L355.68,110.48 L356.59,110.72 L357.51,110.96 L358.43,111.20 L359.34,111.44 L360.26,111.67 L361.18,111.91 L362.09,112.14 L363.01,112.37 L363.93,112.60 L364.84,112.82 L365.76,113.05 L366.68,113.27 L367.59,113.49 L368.51,113.71 L369.43,113.93 L370.34,114.15 L371.26,114.36 L372.18,114.58 L373.09,114.79 L374.01,115.00 L374.93,115.21 L375.84,115.42 L376.76,115.63 L377.68,115.83 L378.59,116.04 L379.51,116.24 L380.43,116.45 L381.34,116.65 L382.26,116.85 L383.18,117.05 L384.09,117.24 L385.01,117.44 L385.93,117.64 L386.84,117.83 L387.76,118.02 L388.68,118.22 L389.59,118.41 L390.51,118.60 L391.43,118.79 L392.34,118.98 L393.26,119.16 L394.18,119.35 L395.09,119.54 L396.01,119.72 L396.93,119.90 L397.84,120.09 L398.76,120.27 L399.68,120.45 L400.59,120.63 L401.51,120.81 L402.43,120.99 L403.34,121.17 L404.26,121.34 L405.18,121.52 L406.09,121.70 L407.01,121.87 L407.93,122.04 L408.84,122.22 L409.76,122.39 L410.68,122.56 L411.59,122.73 L412.51,122.90 L413.43,123.07 L414.34,123.24 L415.26,123.41 L416.18,123.58 L417.09,123.74 L418.01,123.91 L418.92,124.08 L419.84,124.24 L420.76,124.41 L421.67,124.57 L422.59,124.73 L423.51,124.89 L424.42,125.06 L425.34,125.22 L426.26,125.38 L427.17,125.54 L428.09,125.70 L429.01,125.86 L429.92,126.02 L430.84,126.17 L431.76,126.33 L432.67,126.49 L433.59,126.64 L434.51,126.80 L435.42,126.95 L436.34,127.11 L437.26,127.26 L438.17,127.42 L439.09,127.57 L440.01,127.72 L440.92,127.87 L441.84,128.03 L442.76,128.18 L443.67,128.33 L444.59,128.48 L445.51,128.63 L446.42,128.78 L447.34,128.92 L448.26,129.07 L449.17,129.22 L450.09,129.37 L451.01,129.51 L451.92,129.66 L452.84,129.81 L453.76,129.95 L454.67,130.10 L455.59,130.24 L456.51,130.39 L457.42,130.53 L458.34,130.67 L459.26,130.82 L460.17,130.96 L461.09,131.10 L462.01,131.24 L462.92,131.38 L463.84,131.52 L464.76,131.67 L465.67,131.81 L466.59,131.95 L467.51,132.08 L468.42,132.22 L469.34,132.36 L470.26,132.50 L471.17,132.64 L472.09,132.78 L473.01,132.91 L473.92,133.05 L474.84,133.19 L475.76,133.32 L476.67,133.46 L477.59,133.59 L478.51,133.73 L479.42,133.86 L480.34,134.00 L481.26,134.13 L482.17,134.27 L483.09,134.40 L484.01,134.53 L484.92,134.66 L485.84,134.80 L486.76,134.93 L487.67,135.06 L488.59,135.19 L489.51,135.32 L490.42,135.45 L491.34,135.58 L492.25,135.71" fill="none" stroke="#74bc55" stroke-width="1.1"/>
<path d="M305.00,93.73 L305.22,95.21 L305.44,95.86 L305.66,96.37 L305.88,96.80 L306.10,97.18 L306.32,97.52 L306.54,97.84 L306.76,98.14 L306.98,98.42 L307.20,98.68 L307.42,98.94 L307.64,99.18 L307.86,99.41 L308.08,99.64 L308.30,99.86 L308.52,100.07 L308.75,100.27 L308.97,100.47 L309.19,100.66 L309.41,100.85 L309.85,101.21 L310.76,101.92 L311.68,102.58 L312.60,103.20 L313.51,103.78 L314.43,104.33 L315.35,104.86 L316.26,105.36 L317.18,105.85 L318.10,106.32 L319.01,106.77 L319.93,107.21 L320.85,107.64 L321.76,108.05 L322.68,108.46 L323.60,108.85 L324.51,109.24 L325.43,109.62 L326.35,109.98 L327.26,110.35 L328.18,110.70 L329.10,111.05 L330.01,111.39 L330.93,111.73 L331.85,112.06 L332.76,112.38 L333.68,112.70 L334.60,113.01 L335.51,113.32 L336.43,113.63 L337.35,113.93 L338.26,114.23 L339.18,114.52 L340.10,114.81 L341.01,115.10 L341.93,115.38 L342.85,115.66 L343.76,115.94 L344.68,116.21 L345.59,116.48 L346.51,116.75 L347.43,117.01 L348.34,117.27 L349.26,117.53 L350.18,117.79 L351.09,118.04 L352.01,118.29 L352.93,118.54 L353.84,118.79 L354.76,119.04 L355.68,119.28 L356.59,119.52 L357.51,119.76 L358.43,119.99 L359.34,120.23 L360.26,120.46 L361.18,120.69 L362.09,120.92 L363.01,121.15 L363.93,121.38 L364.84,121.60 L365.76,121.82 L366.68,122.04 L367.59,122.26 L368.51,122.48 L369.43,122.70 L370.34,122.91 L371.26,123.12 L372.18,123.34 L373.09,123.55 L374.01,123.76 L374.93,123.96 L375.84,124.17 L376.76,124.38 L377.68,124.58 L378.59,124.78 L379.51,124.98 L380.43,125.19 L381.34,125.38 L382.26,125.58 L383.18,125.78 L384.09,125.98 L385.01,126.17 L385.93,126.36 L386.84,126.56 L387.76,126.75 L388.68,126.94 L389.59,127.13 L390.51,127.32 L391.43,127.51 L392.34,127.69 L393.26,127.88 L394.18,128.06 L395.09,128.25 L396.01,128.43 L396.93,128.61 L397.84,128.79 L398.76,128.98 L399.68,129.16 L400.59,129.33 L401.51,129.51 L402.43,129.69 L403.34,129.87 L404.26,130.04 L405.18,130.22 L406.09,130.39 L407.01,130.56 L407.93,130.74 L408.84,130.91 L409.76,131.08 L410.68,131.25 L411.59,131.42 L412.51,131.59 L413.43,131.76 L414.34,131.93 L415.26,132.09 L416.18,132.26 L417.09,132.43 L418.01,132.59 L418.92,132.76 L419.84,132.92 L420.76,133.08 L421.67,133.25 L422.59,133.41 L423.51,133.57 L424.42,133.73 L425.34,133.89 L426.26,134.05 L427.17,134.21 L428.09,134.37 L429.01,134.53 L429.92,134.68 L430.84,134.84 L431.76,135.00 L432.67,135.15 L433.59,135.31 L434.51,135.46 L435.42,135.62 L436.34,135.77 L437.26,135.92 L438.17,136.08 L439.09,136.23 L440.01,136.38 L440.92,136.53 L441.84,136.68 L442.76,136.83 L443.67,136.98 L444.59,137.13 L445.51,137.28 L446.42,137.43 L447.34,137.58 L448.26,137.72 L449.17,137.87 L450.09,138.02 L451.01,138.16 L451.92,138.31 L452.84,138.45 L453.76,138.60 L454.67,138.74 L455.59,138.89 L456.51,139.03 L457.42,139.17 L458.34,139.32 L459.26,139.46 L460.17,139.60 L461.09,139.74 L462.01,139.88 L462.92,140.02 L463.84,140.16 L464.76,140.30 L465.67,140.44 L466.59,140.58 L467.51,140.72 L468.42,140.86 L469.34,141.00 L470.26,141.14 L471.17,141.27 L472.09,141.41 L473.01,141.55 L473.92,141.68 L474.84,141.82 L475.76,141.95 L476.67,142.09 L477.59,142.22 L478.51,142.36 L479.42,142.49 L480.34,142.63 L481.26,142.76 L482.17,142.89 L483.09,143.03 L484.01,143.16 L484.92,143.29 L485.84,143.42 L486.76,143.55 L487.67,143.69 L488.59,143.82 L489.51,143.95 L490.42,144.08 L491.34,144.21 L492.25,144.34" fill="none" stroke="#42609e" stroke-width="1.1"/>
<line x1="305" y1="37" x2="305" y2="165.3" stroke="#262626" stroke-width="1.5"/>
<line x1="304.35" y1="164.65" x2="492.3" y2="164.65" stroke="#262626" stroke-width="1.3"/>
<line x1="301.8" y1="164.50" x2="305" y2="164.50" stroke="#262626" stroke-width="1.3"/>
<text x="298.20" y="167.60" font-size="8.7" text-anchor="end" font-style="normal" font-weight="normal" fill="#151515" stroke="#151515" stroke-width="0.2" textLength="4.00" lengthAdjust="spacingAndGlyphs">0</text>
<line x1="301.8" y1="156.22" x2="305" y2="156.22" stroke="#262626" stroke-width="1.3"/>
<line x1="301.8" y1="147.94" x2="305" y2="147.94" stroke="#262626" stroke-width="1.3"/>
<text x="298.20" y="151.04" font-size="8.7" text-anchor="end" font-style="normal" font-weight="normal" fill="#151515" stroke="#151515" stroke-width="0.2" textLength="4.00" lengthAdjust="spacingAndGlyphs">2</text>
<line x1="301.8" y1="139.66" x2="305" y2="139.66" stroke="#262626" stroke-width="1.3"/>
<line x1="301.8" y1="131.38" x2="305" y2="131.38" stroke="#262626" stroke-width="1.3"/>
<text x="298.20" y="134.48" font-size="8.7" text-anchor="end" font-style="normal" font-weight="normal" fill="#151515" stroke="#151515" stroke-width="0.2" textLength="4.00" lengthAdjust="spacingAndGlyphs">4</text>
<line x1="301.8" y1="123.10" x2="305" y2="123.10" stroke="#262626" stroke-width="1.3"/>
<line x1="301.8" y1="114.82" x2="305" y2="114.82" stroke="#262626" stroke-width="1.3"/>
<text x="298.20" y="117.92" font-size="8.7" text-anchor="end" font-style="normal" font-weight="normal" fill="#151515" stroke="#151515" stroke-width="0.2" textLength="4.00" lengthAdjust="spacingAndGlyphs">6</text>
<line x1="301.8" y1="106.54" x2="305" y2="106.54" stroke="#262626" stroke-width="1.3"/>
<line x1="301.8" y1="98.26" x2="305" y2="98.26" stroke="#262626" stroke-width="1.3"/>
<text x="298.20" y="101.36" font-size="8.7" text-anchor="end" font-style="normal" font-weight="normal" fill="#151515" stroke="#151515" stroke-width="0.2" textLength="4.00" lengthAdjust="spacingAndGlyphs">8</text>
<line x1="301.8" y1="89.98" x2="305" y2="89.98" stroke="#262626" stroke-width="1.3"/>
<line x1="301.8" y1="81.70" x2="305" y2="81.70" stroke="#262626" stroke-width="1.3"/>
<text x="298.20" y="84.80" font-size="8.7" text-anchor="end" font-style="normal" font-weight="normal" fill="#151515" stroke="#151515" stroke-width="0.2" textLength="7.90" lengthAdjust="spacingAndGlyphs">10</text>
<line x1="301.8" y1="73.42" x2="305" y2="73.42" stroke="#262626" stroke-width="1.3"/>
<line x1="301.8" y1="65.14" x2="305" y2="65.14" stroke="#262626" stroke-width="1.3"/>
<text x="298.20" y="68.24" font-size="8.7" text-anchor="end" font-style="normal" font-weight="normal" fill="#151515" stroke="#151515" stroke-width="0.2" textLength="7.90" lengthAdjust="spacingAndGlyphs">12</text>
<line x1="301.8" y1="56.86" x2="305" y2="56.86" stroke="#262626" stroke-width="1.3"/>
<line x1="301.8" y1="48.58" x2="305" y2="48.58" stroke="#262626" stroke-width="1.3"/>
<text x="298.20" y="51.68" font-size="8.7" text-anchor="end" font-style="normal" font-weight="normal" fill="#151515" stroke="#151515" stroke-width="0.2" textLength="7.90" lengthAdjust="spacingAndGlyphs">14</text>
<line x1="301.8" y1="40.30" x2="305" y2="40.30" stroke="#262626" stroke-width="1.3"/>
<line x1="304.90" y1="164.65" x2="304.90" y2="167.8" stroke="#262626" stroke-width="1.3"/>
<text x="304.90" y="178.00" font-size="8.7" text-anchor="middle" font-style="normal" font-weight="normal" fill="#151515" stroke="#151515" stroke-width="0.2" textLength="4.00" lengthAdjust="spacingAndGlyphs">0</text>
<line x1="326.93" y1="164.65" x2="326.93" y2="167.8" stroke="#262626" stroke-width="1.3"/>
<text x="326.93" y="178.00" font-size="8.7" text-anchor="middle" font-style="normal" font-weight="normal" fill="#151515" stroke="#151515" stroke-width="0.2" textLength="7.60" lengthAdjust="spacingAndGlyphs">10</text>
<line x1="348.96" y1="164.65" x2="348.96" y2="167.8" stroke="#262626" stroke-width="1.3"/>
<text x="348.96" y="178.00" font-size="8.7" text-anchor="middle" font-style="normal" font-weight="normal" fill="#151515" stroke="#151515" stroke-width="0.2" textLength="7.60" lengthAdjust="spacingAndGlyphs">20</text>
<line x1="370.99" y1="164.65" x2="370.99" y2="167.8" stroke="#262626" stroke-width="1.3"/>
<text x="370.99" y="178.00" font-size="8.7" text-anchor="middle" font-style="normal" font-weight="normal" fill="#151515" stroke="#151515" stroke-width="0.2" textLength="7.60" lengthAdjust="spacingAndGlyphs">30</text>
<line x1="393.02" y1="164.65" x2="393.02" y2="167.8" stroke="#262626" stroke-width="1.3"/>
<text x="393.02" y="178.00" font-size="8.7" text-anchor="middle" font-style="normal" font-weight="normal" fill="#151515" stroke="#151515" stroke-width="0.2" textLength="7.60" lengthAdjust="spacingAndGlyphs">40</text>
<line x1="415.05" y1="164.65" x2="415.05" y2="167.8" stroke="#262626" stroke-width="1.3"/>
<text x="415.05" y="178.00" font-size="8.7" text-anchor="middle" font-style="normal" font-weight="normal" fill="#151515" stroke="#151515" stroke-width="0.2" textLength="7.60" lengthAdjust="spacingAndGlyphs">50</text>
<line x1="437.08" y1="164.65" x2="437.08" y2="167.8" stroke="#262626" stroke-width="1.3"/>
<text x="437.08" y="178.00" font-size="8.7" text-anchor="middle" font-style="normal" font-weight="normal" fill="#151515" stroke="#151515" stroke-width="0.2" textLength="7.60" lengthAdjust="spacingAndGlyphs">60</text>
<line x1="459.11" y1="164.65" x2="459.11" y2="167.8" stroke="#262626" stroke-width="1.3"/>
<text x="459.11" y="178.00" font-size="8.7" text-anchor="middle" font-style="normal" font-weight="normal" fill="#151515" stroke="#151515" stroke-width="0.2" textLength="7.60" lengthAdjust="spacingAndGlyphs">70</text>
<line x1="481.14" y1="164.65" x2="481.14" y2="167.8" stroke="#262626" stroke-width="1.3"/>
<text x="481.14" y="178.00" font-size="8.7" text-anchor="middle" font-style="normal" font-weight="normal" fill="#151515" stroke="#151515" stroke-width="0.2" textLength="7.60" lengthAdjust="spacingAndGlyphs">80</text>
<text transform="translate(283.8,157.7) rotate(-90)" x="0" y="0" font-size="9.6" fill="#1a1a1a" stroke="#1a1a1a" stroke-width="0.15" textLength="115.5" lengthAdjust="spacingAndGlyphs">Lymphocyte telomere length (kb)</text>
<text x="380.00" y="191.50" font-size="8.8" text-anchor="start" font-style="italic" font-weight="normal" fill="#151515" stroke="#151515" stroke-width="0.15" textLength="38.40" lengthAdjust="spacingAndGlyphs">Age (years)</text>
<text x="495.40" y="107.20" font-size="8.0" text-anchor="start" font-style="italic" font-weight="normal" fill="#151515" stroke="#151515" stroke-width="0.2" textLength="14.90" lengthAdjust="spacingAndGlyphs">99th</text>
<text x="495.40" y="115.80" font-size="8.0" text-anchor="start" font-style="italic" font-weight="normal" fill="#151515" stroke="#151515" stroke-width="0.2" textLength="14.90" lengthAdjust="spacingAndGlyphs">90th</text>
<text x="495.40" y="127.00" font-size="8.0" text-anchor="start" font-style="italic" font-weight="normal" fill="#151515" stroke="#151515" stroke-width="0.2" textLength="15.30" lengthAdjust="spacingAndGlyphs">50th</text>
<text x="495.40" y="137.70" font-size="8.0" text-anchor="start" font-style="italic" font-weight="normal" fill="#151515" stroke="#151515" stroke-width="0.2" textLength="14.90" lengthAdjust="spacingAndGlyphs">10th</text>
<text x="495.40" y="146.80" font-size="8.0" text-anchor="start" font-style="italic" font-weight="normal" fill="#151515" stroke="#151515" stroke-width="0.2" textLength="9.40" lengthAdjust="spacingAndGlyphs">1st</text>
<path d="M306.00,239.52 L306.22,241.49 L306.44,242.27 L306.66,242.86 L306.88,243.36 L307.10,243.80 L307.32,244.19 L307.54,244.56 L307.76,244.89 L307.98,245.21 L308.20,245.50 L308.42,245.78 L308.64,246.05 L308.86,246.31 L309.08,246.56 L309.30,246.80 L309.52,247.03 L309.75,247.25 L309.97,247.47 L310.19,247.68 L310.41,247.88 L310.85,248.28 L311.76,249.04 L312.68,249.75 L313.60,250.40 L314.51,251.02 L315.43,251.60 L316.35,252.16 L317.26,252.69 L318.18,253.19 L319.10,253.68 L320.01,254.15 L320.93,254.61 L321.85,255.05 L322.76,255.48 L323.68,255.89 L324.60,256.30 L325.51,256.69 L326.43,257.08 L327.35,257.46 L328.26,257.82 L329.18,258.18 L330.10,258.54 L331.01,258.88 L331.93,259.22 L332.85,259.56 L333.76,259.89 L334.68,260.21 L335.60,260.52 L336.51,260.84 L337.43,261.14 L338.35,261.45 L339.26,261.74 L340.18,262.04 L341.10,262.33 L342.01,262.62 L342.93,262.90 L343.85,263.18 L344.76,263.45 L345.68,263.72 L346.59,263.99 L347.51,264.26 L348.43,264.52 L349.34,264.78 L350.26,265.04 L351.18,265.29 L352.09,265.54 L353.01,265.79 L353.93,266.04 L354.84,266.28 L355.76,266.52 L356.68,266.76 L357.59,267.00 L358.51,267.23 L359.43,267.47 L360.34,267.70 L361.26,267.93 L362.18,268.15 L363.09,268.38 L364.01,268.60 L364.93,268.82 L365.84,269.04 L366.76,269.26 L367.68,269.48 L368.59,269.69 L369.51,269.90 L370.43,270.11 L371.34,270.32 L372.26,270.53 L373.18,270.74 L374.09,270.94 L375.01,271.15 L375.93,271.35 L376.84,271.55 L377.76,271.75 L378.68,271.95 L379.59,272.15 L380.51,272.34 L381.43,272.54 L382.34,272.73 L383.26,272.92 L384.18,273.11 L385.09,273.30 L386.01,273.49 L386.93,273.68 L387.84,273.87 L388.76,274.05 L389.68,274.24 L390.59,274.42 L391.51,274.60 L392.43,274.78 L393.34,274.96 L394.26,275.14 L395.18,275.32 L396.09,275.50 L397.01,275.67 L397.93,275.85 L398.84,276.02 L399.76,276.20 L400.68,276.37 L401.59,276.54 L402.51,276.71 L403.43,276.88 L404.34,277.05 L405.26,277.22 L406.18,277.39 L407.09,277.56 L408.01,277.72 L408.93,277.89 L409.84,278.05 L410.76,278.22 L411.68,278.38 L412.59,278.54 L413.51,278.71 L414.43,278.87 L415.34,279.03 L416.26,279.19 L417.18,279.35 L418.09,279.51 L419.01,279.66 L419.92,279.82 L420.84,279.98 L421.76,280.13 L422.67,280.29 L423.59,280.44 L424.51,280.60 L425.42,280.75 L426.34,280.90 L427.26,281.05 L428.17,281.21 L429.09,281.36 L430.01,281.51 L430.92,281.66 L431.84,281.81 L432.76,281.95 L433.67,282.10 L434.59,282.25 L435.51,282.40 L436.42,282.54 L437.34,282.69 L438.26,282.83 L439.17,282.98 L440.09,283.12 L441.01,283.27 L441.92,283.41 L442.84,283.55 L443.76,283.70 L444.67,283.84 L445.59,283.98 L446.51,284.12 L447.42,284.26 L448.34,284.40 L449.26,284.54 L450.17,284.68 L451.09,284.82 L452.01,284.96 L452.92,285.09 L453.84,285.23 L454.76,285.37 L455.67,285.50 L456.59,285.64 L457.51,285.78 L458.42,285.91 L459.34,286.05 L460.26,286.18 L461.17,286.31 L462.09,286.45 L463.01,286.58 L463.92,286.71 L464.84,286.84 L465.76,286.98 L466.67,287.11 L467.59,287.24 L468.51,287.37 L469.42,287.50 L470.34,287.63 L471.26,287.76 L472.17,287.89 L473.09,288.02 L474.01,288.15 L474.92,288.27 L475.84,288.40 L476.76,288.53 L477.67,288.66 L478.59,288.78 L479.51,288.91 L480.42,289.03 L481.34,289.16 L482.26,289.29 L483.17,289.41 L484.09,289.53 L485.01,289.66 L485.92,289.78 L486.84,289.91 L487.76,290.03 L488.67,290.15 L489.59,290.28 L490.51,290.40 L491.42,290.52 L492.34,290.64 L493.25,290.76" fill="none" stroke="#c63658" stroke-width="1.1"/>
<path d="M306.00,248.93 L306.22,250.61 L306.44,251.32 L306.66,251.86 L306.88,252.32 L307.10,252.73 L307.32,253.09 L307.54,253.43 L307.76,253.74 L307.98,254.04 L308.20,254.32 L308.42,254.58 L308.64,254.84 L308.86,255.08 L309.08,255.31 L309.30,255.54 L309.52,255.76 L309.75,255.97 L309.97,256.18 L310.19,256.38 L310.41,256.58 L310.85,256.95 L311.76,257.69 L312.68,258.36 L313.60,259.00 L314.51,259.59 L315.43,260.16 L316.35,260.70 L317.26,261.22 L318.18,261.71 L319.10,262.19 L320.01,262.65 L320.93,263.10 L321.85,263.53 L322.76,263.95 L323.68,264.36 L324.60,264.76 L325.51,265.15 L326.43,265.53 L327.35,265.90 L328.26,266.27 L329.18,266.62 L330.10,266.97 L331.01,267.32 L331.93,267.66 L332.85,267.99 L333.76,268.31 L334.68,268.63 L335.60,268.95 L336.51,269.26 L337.43,269.57 L338.35,269.87 L339.26,270.17 L340.18,270.46 L341.10,270.75 L342.01,271.04 L342.93,271.32 L343.85,271.60 L344.76,271.88 L345.68,272.15 L346.59,272.42 L347.51,272.68 L348.43,272.95 L349.34,273.21 L350.26,273.47 L351.18,273.72 L352.09,273.98 L353.01,274.23 L353.93,274.48 L354.84,274.72 L355.76,274.96 L356.68,275.21 L357.59,275.44 L358.51,275.68 L359.43,275.92 L360.34,276.15 L361.26,276.38 L362.18,276.61 L363.09,276.84 L364.01,277.06 L364.93,277.29 L365.84,277.51 L366.76,277.73 L367.68,277.95 L368.59,278.17 L369.51,278.38 L370.43,278.60 L371.34,278.81 L372.26,279.02 L373.18,279.23 L374.09,279.44 L375.01,279.64 L375.93,279.85 L376.84,280.05 L377.76,280.26 L378.68,280.46 L379.59,280.66 L380.51,280.86 L381.43,281.06 L382.34,281.25 L383.26,281.45 L384.18,281.64 L385.09,281.84 L386.01,282.03 L386.93,282.22 L387.84,282.41 L388.76,282.60 L389.68,282.79 L390.59,282.97 L391.51,283.16 L392.43,283.35 L393.34,283.53 L394.26,283.71 L395.18,283.89 L396.09,284.08 L397.01,284.26 L397.93,284.44 L398.84,284.61 L399.76,284.79 L400.68,284.97 L401.59,285.14 L402.51,285.32 L403.43,285.49 L404.34,285.67 L405.26,285.84 L406.18,286.01 L407.09,286.18 L408.01,286.35 L408.93,286.52 L409.84,286.69 L410.76,286.86 L411.68,287.03 L412.59,287.19 L413.51,287.36 L414.43,287.53 L415.34,287.69 L416.26,287.85 L417.18,288.02 L418.09,288.18 L419.01,288.34 L419.92,288.50 L420.84,288.66 L421.76,288.82 L422.67,288.98 L423.59,289.14 L424.51,289.30 L425.42,289.46 L426.34,289.61 L427.26,289.77 L428.17,289.93 L429.09,290.08 L430.01,290.24 L430.92,290.39 L431.84,290.54 L432.76,290.70 L433.67,290.85 L434.59,291.00 L435.51,291.15 L436.42,291.30 L437.34,291.45 L438.26,291.60 L439.17,291.75 L440.09,291.90 L441.01,292.05 L441.92,292.20 L442.84,292.35 L443.76,292.49 L444.67,292.64 L445.59,292.78 L446.51,292.93 L447.42,293.07 L448.34,293.22 L449.26,293.36 L450.17,293.51 L451.09,293.65 L452.01,293.79 L452.92,293.93 L453.84,294.08 L454.76,294.22 L455.67,294.36 L456.59,294.50 L457.51,294.64 L458.42,294.78 L459.34,294.92 L460.26,295.06 L461.17,295.19 L462.09,295.33 L463.01,295.47 L463.92,295.61 L464.84,295.74 L465.76,295.88 L466.67,296.02 L467.59,296.15 L468.51,296.29 L469.42,296.42 L470.34,296.56 L471.26,296.69 L472.17,296.82 L473.09,296.96 L474.01,297.09 L474.92,297.22 L475.84,297.36 L476.76,297.49 L477.67,297.62 L478.59,297.75 L479.51,297.88 L480.42,298.01 L481.34,298.14 L482.26,298.27 L483.17,298.40 L484.09,298.53 L485.01,298.66 L485.92,298.79 L486.84,298.92 L487.76,299.04 L488.67,299.17 L489.59,299.30 L490.51,299.43 L491.42,299.55 L492.34,299.68 L493.25,299.81" fill="none" stroke="#74bc55" stroke-width="1.1"/>
<path d="M306.00,259.37 L306.22,261.21 L306.44,261.96 L306.66,262.54 L306.88,263.02 L307.10,263.44 L307.32,263.83 L307.54,264.18 L307.76,264.51 L307.98,264.81 L308.20,265.10 L308.42,265.38 L308.64,265.64 L308.86,265.89 L309.08,266.14 L309.30,266.37 L309.52,266.60 L309.75,266.82 L309.97,267.03 L310.19,267.24 L310.41,267.44 L310.85,267.83 L311.76,268.58 L312.68,269.28 L313.60,269.92 L314.51,270.53 L315.43,271.11 L316.35,271.66 L317.26,272.19 L318.18,272.69 L319.10,273.18 L320.01,273.64 L320.93,274.10 L321.85,274.54 L322.76,274.96 L323.68,275.38 L324.60,275.78 L325.51,276.17 L326.43,276.56 L327.35,276.94 L328.26,277.30 L329.18,277.66 L330.10,278.02 L331.01,278.36 L331.93,278.70 L332.85,279.04 L333.76,279.37 L334.68,279.69 L335.60,280.01 L336.51,280.32 L337.43,280.63 L338.35,280.93 L339.26,281.23 L340.18,281.52 L341.10,281.82 L342.01,282.10 L342.93,282.39 L343.85,282.67 L344.76,282.94 L345.68,283.22 L346.59,283.49 L347.51,283.75 L348.43,284.02 L349.34,284.28 L350.26,284.54 L351.18,284.79 L352.09,285.04 L353.01,285.30 L353.93,285.54 L354.84,285.79 L355.76,286.03 L356.68,286.27 L357.59,286.51 L358.51,286.75 L359.43,286.98 L360.34,287.22 L361.26,287.45 L362.18,287.67 L363.09,287.90 L364.01,288.13 L364.93,288.35 L365.84,288.57 L366.76,288.79 L367.68,289.01 L368.59,289.23 L369.51,289.44 L370.43,289.65 L371.34,289.86 L372.26,290.07 L373.18,290.28 L374.09,290.49 L375.01,290.70 L375.93,290.90 L376.84,291.10 L377.76,291.31 L378.68,291.51 L379.59,291.71 L380.51,291.90 L381.43,292.10 L382.34,292.30 L383.26,292.49 L384.18,292.68 L385.09,292.88 L386.01,293.07 L386.93,293.26 L387.84,293.44 L388.76,293.63 L389.68,293.82 L390.59,294.00 L391.51,294.19 L392.43,294.37 L393.34,294.55 L394.26,294.74 L395.18,294.92 L396.09,295.10 L397.01,295.28 L397.93,295.45 L398.84,295.63 L399.76,295.81 L400.68,295.98 L401.59,296.16 L402.51,296.33 L403.43,296.50 L404.34,296.67 L405.26,296.84 L406.18,297.02 L407.09,297.18 L408.01,297.35 L408.93,297.52 L409.84,297.69 L410.76,297.85 L411.68,298.02 L412.59,298.19 L413.51,298.35 L414.43,298.51 L415.34,298.68 L416.26,298.84 L417.18,299.00 L418.09,299.16 L419.01,299.32 L419.92,299.48 L420.84,299.64 L421.76,299.80 L422.67,299.95 L423.59,300.11 L424.51,300.27 L425.42,300.42 L426.34,300.58 L427.26,300.73 L428.17,300.89 L429.09,301.04 L430.01,301.19 L430.92,301.34 L431.84,301.50 L432.76,301.65 L433.67,301.80 L434.59,301.95 L435.51,302.10 L436.42,302.25 L437.34,302.39 L438.26,302.54 L439.17,302.69 L440.09,302.84 L441.01,302.98 L441.92,303.13 L442.84,303.27 L443.76,303.42 L444.67,303.56 L445.59,303.71 L446.51,303.85 L447.42,303.99 L448.34,304.13 L449.26,304.28 L450.17,304.42 L451.09,304.56 L452.01,304.70 L452.92,304.84 L453.84,304.98 L454.76,305.12 L455.67,305.26 L456.59,305.39 L457.51,305.53 L458.42,305.67 L459.34,305.81 L460.26,305.94 L461.17,306.08 L462.09,306.22 L463.01,306.35 L463.92,306.49 L464.84,306.62 L465.76,306.76 L466.67,306.89 L467.59,307.02 L468.51,307.16 L469.42,307.29 L470.34,307.42 L471.26,307.55 L472.17,307.68 L473.09,307.82 L474.01,307.95 L474.92,308.08 L475.84,308.21 L476.76,308.34 L477.67,308.47 L478.59,308.59 L479.51,308.72 L480.42,308.85 L481.34,308.98 L482.26,309.11 L483.17,309.24 L484.09,309.36 L485.01,309.49 L485.92,309.62 L486.84,309.74 L487.76,309.87 L488.67,309.99 L489.59,310.12 L490.51,310.24 L491.42,310.37 L492.34,310.49 L493.25,310.61" fill="none" stroke="#74bc55" stroke-width="1.1"/>
<path d="M306.00,270.51 L306.22,272.08 L306.44,272.76 L306.66,273.29 L306.88,273.73 L307.10,274.13 L307.32,274.49 L307.54,274.82 L307.76,275.12 L307.98,275.41 L308.20,275.69 L308.42,275.95 L308.64,276.20 L308.86,276.44 L309.08,276.67 L309.30,276.89 L309.52,277.11 L309.75,277.32 L309.97,277.53 L310.19,277.72 L310.41,277.92 L310.85,278.29 L311.76,279.02 L312.68,279.70 L313.60,280.33 L314.51,280.92 L315.43,281.49 L316.35,282.02 L317.26,282.54 L318.18,283.04 L319.10,283.52 L320.01,283.98 L320.93,284.43 L321.85,284.86 L322.76,285.29 L323.68,285.70 L324.60,286.10 L325.51,286.49 L326.43,286.87 L327.35,287.25 L328.26,287.62 L329.18,287.98 L330.10,288.33 L331.01,288.68 L331.93,289.02 L332.85,289.36 L333.76,289.68 L334.68,290.01 L335.60,290.33 L336.51,290.64 L337.43,290.95 L338.35,291.26 L339.26,291.56 L340.18,291.86 L341.10,292.15 L342.01,292.44 L342.93,292.73 L343.85,293.01 L344.76,293.29 L345.68,293.57 L346.59,293.84 L347.51,294.11 L348.43,294.38 L349.34,294.65 L350.26,294.91 L351.18,295.17 L352.09,295.43 L353.01,295.68 L353.93,295.93 L354.84,296.18 L355.76,296.43 L356.68,296.68 L357.59,296.92 L358.51,297.16 L359.43,297.40 L360.34,297.64 L361.26,297.87 L362.18,298.11 L363.09,298.34 L364.01,298.57 L364.93,298.80 L365.84,299.02 L366.76,299.25 L367.68,299.47 L368.59,299.69 L369.51,299.91 L370.43,300.13 L371.34,300.35 L372.26,300.56 L373.18,300.78 L374.09,300.99 L375.01,301.20 L375.93,301.41 L376.84,301.62 L377.76,301.83 L378.68,302.03 L379.59,302.24 L380.51,302.44 L381.43,302.65 L382.34,302.85 L383.26,303.05 L384.18,303.25 L385.09,303.44 L386.01,303.64 L386.93,303.84 L387.84,304.03 L388.76,304.22 L389.68,304.42 L390.59,304.61 L391.51,304.80 L392.43,304.99 L393.34,305.18 L394.26,305.36 L395.18,305.55 L396.09,305.74 L397.01,305.92 L397.93,306.10 L398.84,306.29 L399.76,306.47 L400.68,306.65 L401.59,306.83 L402.51,307.01 L403.43,307.19 L404.34,307.37 L405.26,307.54 L406.18,307.72 L407.09,307.90 L408.01,308.07 L408.93,308.24 L409.84,308.42 L410.76,308.59 L411.68,308.76 L412.59,308.93 L413.51,309.10 L414.43,309.27 L415.34,309.44 L416.26,309.61 L417.18,309.78 L418.09,309.94 L419.01,310.11 L419.92,310.28 L420.84,310.44 L421.76,310.61 L422.67,310.77 L423.59,310.93 L424.51,311.09 L425.42,311.26 L426.34,311.42 L427.26,311.58 L428.17,311.74 L429.09,311.90 L430.01,312.06 L430.92,312.22 L431.84,312.37 L432.76,312.53 L433.67,312.69 L434.59,312.84 L435.51,313.00 L436.42,313.15 L437.34,313.31 L438.26,313.46 L439.17,313.62 L440.09,313.77 L441.01,313.92 L441.92,314.07 L442.84,314.23 L443.76,314.38 L444.67,314.53 L445.59,314.68 L446.51,314.83 L447.42,314.98 L448.34,315.12 L449.26,315.27 L450.17,315.42 L451.09,315.57 L452.01,315.71 L452.92,315.86 L453.84,316.01 L454.76,316.15 L455.67,316.30 L456.59,316.44 L457.51,316.59 L458.42,316.73 L459.34,316.87 L460.26,317.02 L461.17,317.16 L462.09,317.30 L463.01,317.44 L463.92,317.58 L464.84,317.72 L465.76,317.87 L466.67,318.01 L467.59,318.15 L468.51,318.28 L469.42,318.42 L470.34,318.56 L471.26,318.70 L472.17,318.84 L473.09,318.98 L474.01,319.11 L474.92,319.25 L475.84,319.39 L476.76,319.52 L477.67,319.66 L478.59,319.79 L479.51,319.93 L480.42,320.06 L481.34,320.20 L482.26,320.33 L483.17,320.47 L484.09,320.60 L485.01,320.73 L485.92,320.86 L486.84,321.00 L487.76,321.13 L488.67,321.26 L489.59,321.39 L490.51,321.52 L491.42,321.65 L492.34,321.78 L493.25,321.91" fill="none" stroke="#74bc55" stroke-width="1.1"/>
<path d="M306.00,279.93 L306.22,281.41 L306.44,282.06 L306.66,282.57 L306.88,283.00 L307.10,283.38 L307.32,283.72 L307.54,284.04 L307.76,284.34 L307.98,284.62 L308.20,284.88 L308.42,285.14 L308.64,285.38 L308.86,285.61 L309.08,285.84 L309.30,286.06 L309.52,286.27 L309.75,286.47 L309.97,286.67 L310.19,286.86 L310.41,287.05 L310.85,287.41 L311.76,288.12 L312.68,288.78 L313.60,289.40 L314.51,289.98 L315.43,290.53 L316.35,291.06 L317.26,291.56 L318.18,292.05 L319.10,292.52 L320.01,292.97 L320.93,293.41 L321.85,293.84 L322.76,294.25 L323.68,294.66 L324.60,295.05 L325.51,295.44 L326.43,295.82 L327.35,296.18 L328.26,296.55 L329.18,296.90 L330.10,297.25 L331.01,297.59 L331.93,297.93 L332.85,298.26 L333.76,298.58 L334.68,298.90 L335.60,299.21 L336.51,299.52 L337.43,299.83 L338.35,300.13 L339.26,300.43 L340.18,300.72 L341.10,301.01 L342.01,301.30 L342.93,301.58 L343.85,301.86 L344.76,302.14 L345.68,302.41 L346.59,302.68 L347.51,302.95 L348.43,303.21 L349.34,303.47 L350.26,303.73 L351.18,303.99 L352.09,304.24 L353.01,304.49 L353.93,304.74 L354.84,304.99 L355.76,305.24 L356.68,305.48 L357.59,305.72 L358.51,305.96 L359.43,306.19 L360.34,306.43 L361.26,306.66 L362.18,306.89 L363.09,307.12 L364.01,307.35 L364.93,307.58 L365.84,307.80 L366.76,308.02 L367.68,308.24 L368.59,308.46 L369.51,308.68 L370.43,308.90 L371.34,309.11 L372.26,309.32 L373.18,309.54 L374.09,309.75 L375.01,309.96 L375.93,310.16 L376.84,310.37 L377.76,310.58 L378.68,310.78 L379.59,310.98 L380.51,311.18 L381.43,311.39 L382.34,311.58 L383.26,311.78 L384.18,311.98 L385.09,312.18 L386.01,312.37 L386.93,312.56 L387.84,312.76 L388.76,312.95 L389.68,313.14 L390.59,313.33 L391.51,313.52 L392.43,313.71 L393.34,313.89 L394.26,314.08 L395.18,314.26 L396.09,314.45 L397.01,314.63 L397.93,314.81 L398.84,314.99 L399.76,315.18 L400.68,315.36 L401.59,315.53 L402.51,315.71 L403.43,315.89 L404.34,316.07 L405.26,316.24 L406.18,316.42 L407.09,316.59 L408.01,316.76 L408.93,316.94 L409.84,317.11 L410.76,317.28 L411.68,317.45 L412.59,317.62 L413.51,317.79 L414.43,317.96 L415.34,318.13 L416.26,318.29 L417.18,318.46 L418.09,318.63 L419.01,318.79 L419.92,318.96 L420.84,319.12 L421.76,319.28 L422.67,319.45 L423.59,319.61 L424.51,319.77 L425.42,319.93 L426.34,320.09 L427.26,320.25 L428.17,320.41 L429.09,320.57 L430.01,320.73 L430.92,320.88 L431.84,321.04 L432.76,321.20 L433.67,321.35 L434.59,321.51 L435.51,321.66 L436.42,321.82 L437.34,321.97 L438.26,322.12 L439.17,322.28 L440.09,322.43 L441.01,322.58 L441.92,322.73 L442.84,322.88 L443.76,323.03 L444.67,323.18 L445.59,323.33 L446.51,323.48 L447.42,323.63 L448.34,323.78 L449.26,323.92 L450.17,324.07 L451.09,324.22 L452.01,324.36 L452.92,324.51 L453.84,324.65 L454.76,324.80 L455.67,324.94 L456.59,325.09 L457.51,325.23 L458.42,325.37 L459.34,325.52 L460.26,325.66 L461.17,325.80 L462.09,325.94 L463.01,326.08 L463.92,326.22 L464.84,326.36 L465.76,326.50 L466.67,326.64 L467.59,326.78 L468.51,326.92 L469.42,327.06 L470.34,327.20 L471.26,327.34 L472.17,327.47 L473.09,327.61 L474.01,327.75 L474.92,327.88 L475.84,328.02 L476.76,328.15 L477.67,328.29 L478.59,328.42 L479.51,328.56 L480.42,328.69 L481.34,328.83 L482.26,328.96 L483.17,329.09 L484.09,329.23 L485.01,329.36 L485.92,329.49 L486.84,329.62 L487.76,329.75 L488.67,329.89 L489.59,330.02 L490.51,330.15 L491.42,330.28 L492.34,330.41 L493.25,330.54" fill="none" stroke="#42609e" stroke-width="1.1"/>
<line x1="306" y1="223.2" x2="306" y2="351.5" stroke="#262626" stroke-width="1.5"/>
<line x1="305.35" y1="350.85" x2="493.3" y2="350.85" stroke="#262626" stroke-width="1.3"/>
<line x1="302.8" y1="350.70" x2="306" y2="350.70" stroke="#262626" stroke-width="1.3"/>
<text x="299.20" y="353.80" font-size="8.7" text-anchor="end" font-style="normal" font-weight="normal" fill="#151515" stroke="#151515" stroke-width="0.2" textLength="4.00" lengthAdjust="spacingAndGlyphs">0</text>
<line x1="302.8" y1="342.42" x2="306" y2="342.42" stroke="#262626" stroke-width="1.3"/>
<line x1="302.8" y1="334.14" x2="306" y2="334.14" stroke="#262626" stroke-width="1.3"/>
<text x="299.20" y="337.24" font-size="8.7" text-anchor="end" font-style="normal" font-weight="normal" fill="#151515" stroke="#151515" stroke-width="0.2" textLength="4.00" lengthAdjust="spacingAndGlyphs">2</text>
<line x1="302.8" y1="325.86" x2="306" y2="325.86" stroke="#262626" stroke-width="1.3"/>
<line x1="302.8" y1="317.58" x2="306" y2="317.58" stroke="#262626" stroke-width="1.3"/>
<text x="299.20" y="320.68" font-size="8.7" text-anchor="end" font-style="normal" font-weight="normal" fill="#151515" stroke="#151515" stroke-width="0.2" textLength="4.00" lengthAdjust="spacingAndGlyphs">4</text>
<line x1="302.8" y1="309.30" x2="306" y2="309.30" stroke="#262626" stroke-width="1.3"/>
<line x1="302.8" y1="301.02" x2="306" y2="301.02" stroke="#262626" stroke-width="1.3"/>
<text x="299.20" y="304.12" font-size="8.7" text-anchor="end" font-style="normal" font-weight="normal" fill="#151515" stroke="#151515" stroke-width="0.2" textLength="4.00" lengthAdjust="spacingAndGlyphs">6</text>
<line x1="302.8" y1="292.74" x2="306" y2="292.74" stroke="#262626" stroke-width="1.3"/>
<line x1="302.8" y1="284.46" x2="306" y2="284.46" stroke="#262626" stroke-width="1.3"/>
<text x="299.20" y="287.56" font-size="8.7" text-anchor="end" font-style="normal" font-weight="normal" fill="#151515" stroke="#151515" stroke-width="0.2" textLength="4.00" lengthAdjust="spacingAndGlyphs">8</text>
<line x1="302.8" y1="276.18" x2="306" y2="276.18" stroke="#262626" stroke-width="1.3"/>
<line x1="302.8" y1="267.90" x2="306" y2="267.90" stroke="#262626" stroke-width="1.3"/>
<text x="299.20" y="271.00" font-size="8.7" text-anchor="end" font-style="normal" font-weight="normal" fill="#151515" stroke="#151515" stroke-width="0.2" textLength="7.90" lengthAdjust="spacingAndGlyphs">10</text>
<line x1="302.8" y1="259.62" x2="306" y2="259.62" stroke="#262626" stroke-width="1.3"/>
<line x1="302.8" y1="251.34" x2="306" y2="251.34" stroke="#262626" stroke-width="1.3"/>
<text x="299.20" y="254.44" font-size="8.7" text-anchor="end" font-style="normal" font-weight="normal" fill="#151515" stroke="#151515" stroke-width="0.2" textLength="7.90" lengthAdjust="spacingAndGlyphs">12</text>
<line x1="302.8" y1="243.06" x2="306" y2="243.06" stroke="#262626" stroke-width="1.3"/>
<line x1="302.8" y1="234.78" x2="306" y2="234.78" stroke="#262626" stroke-width="1.3"/>
<text x="299.20" y="237.88" font-size="8.7" text-anchor="end" font-style="normal" font-weight="normal" fill="#151515" stroke="#151515" stroke-width="0.2" textLength="7.90" lengthAdjust="spacingAndGlyphs">14</text>
<line x1="302.8" y1="226.50" x2="306" y2="226.50" stroke="#262626" stroke-width="1.3"/>
<line x1="305.90" y1="350.85" x2="305.90" y2="354.0" stroke="#262626" stroke-width="1.3"/>
<text x="305.90" y="364.20" font-size="8.7" text-anchor="middle" font-style="normal" font-weight="normal" fill="#151515" stroke="#151515" stroke-width="0.2" textLength="4.00" lengthAdjust="spacingAndGlyphs">0</text>
<line x1="327.93" y1="350.85" x2="327.93" y2="354.0" stroke="#262626" stroke-width="1.3"/>
<text x="327.93" y="364.20" font-size="8.7" text-anchor="middle" font-style="normal" font-weight="normal" fill="#151515" stroke="#151515" stroke-width="0.2" textLength="7.60" lengthAdjust="spacingAndGlyphs">10</text>
<line x1="349.96" y1="350.85" x2="349.96" y2="354.0" stroke="#262626" stroke-width="1.3"/>
<text x="349.96" y="364.20" font-size="8.7" text-anchor="middle" font-style="normal" font-weight="normal" fill="#151515" stroke="#151515" stroke-width="0.2" textLength="7.60" lengthAdjust="spacingAndGlyphs">20</text>
<line x1="371.99" y1="350.85" x2="371.99" y2="354.0" stroke="#262626" stroke-width="1.3"/>
<text x="371.99" y="364.20" font-size="8.7" text-anchor="middle" font-style="normal" font-weight="normal" fill="#151515" stroke="#151515" stroke-width="0.2" textLength="7.60" lengthAdjust="spacingAndGlyphs">30</text>
<line x1="394.02" y1="350.85" x2="394.02" y2="354.0" stroke="#262626" stroke-width="1.3"/>
<text x="394.02" y="364.20" font-size="8.7" text-anchor="middle" font-style="normal" font-weight="normal" fill="#151515" stroke="#151515" stroke-width="0.2" textLength="7.60" lengthAdjust="spacingAndGlyphs">40</text>
<line x1="416.05" y1="350.85" x2="416.05" y2="354.0" stroke="#262626" stroke-width="1.3"/>
<text x="416.05" y="364.20" font-size="8.7" text-anchor="middle" font-style="normal" font-weight="normal" fill="#151515" stroke="#151515" stroke-width="0.2" textLength="7.60" lengthAdjust="spacingAndGlyphs">50</text>
<line x1="438.08" y1="350.85" x2="438.08" y2="354.0" stroke="#262626" stroke-width="1.3"/>
<text x="438.08" y="364.20" font-size="8.7" text-anchor="middle" font-style="normal" font-weight="normal" fill="#151515" stroke="#151515" stroke-width="0.2" textLength="7.60" lengthAdjust="spacingAndGlyphs">60</text>
<line x1="460.11" y1="350.85" x2="460.11" y2="354.0" stroke="#262626" stroke-width="1.3"/>
<text x="460.11" y="364.20" font-size="8.7" text-anchor="middle" font-style="normal" font-weight="normal" fill="#151515" stroke="#151515" stroke-width="0.2" textLength="7.60" lengthAdjust="spacingAndGlyphs">70</text>
<line x1="482.14" y1="350.85" x2="482.14" y2="354.0" stroke="#262626" stroke-width="1.3"/>
<text x="482.14" y="364.20" font-size="8.7" text-anchor="middle" font-style="normal" font-weight="normal" fill="#151515" stroke="#151515" stroke-width="0.2" textLength="7.60" lengthAdjust="spacingAndGlyphs">80</text>
<text transform="translate(284.8,343.9) rotate(-90)" x="0" y="0" font-size="9.6" fill="#1a1a1a" stroke="#1a1a1a" stroke-width="0.15" textLength="115.5" lengthAdjust="spacingAndGlyphs">Lymphocyte telomere length (kb)</text>
<text x="381.00" y="377.70" font-size="8.8" text-anchor="start" font-style="italic" font-weight="normal" fill="#151515" stroke="#151515" stroke-width="0.15" textLength="38.40" lengthAdjust="spacingAndGlyphs">Age (years)</text>
<text x="496.40" y="293.40" font-size="8.0" text-anchor="start" font-style="italic" font-weight="normal" fill="#151515" stroke="#151515" stroke-width="0.2" textLength="14.90" lengthAdjust="spacingAndGlyphs">99th</text>
<text x="496.40" y="302.00" font-size="8.0" text-anchor="start" font-style="italic" font-weight="normal" fill="#151515" stroke="#151515" stroke-width="0.2" textLength="14.90" lengthAdjust="spacingAndGlyphs">90th</text>
<text x="496.40" y="313.20" font-size="8.0" text-anchor="start" font-style="italic" font-weight="normal" fill="#151515" stroke="#151515" stroke-width="0.2" textLength="15.30" lengthAdjust="spacingAndGlyphs">50th</text>
<text x="496.40" y="323.90" font-size="8.0" text-anchor="start" font-style="italic" font-weight="normal" fill="#151515" stroke="#151515" stroke-width="0.2" textLength="14.90" lengthAdjust="spacingAndGlyphs">10th</text>
<text x="496.40" y="333.00" font-size="8.0" text-anchor="start" font-style="italic" font-weight="normal" fill="#151515" stroke="#151515" stroke-width="0.2" textLength="9.40" lengthAdjust="spacingAndGlyphs">1st</text>
<circle cx="82.2" cy="24.15" r="2.3" fill="#471a62"/>
<text x="88.00" y="26.60" font-size="8.2" text-anchor="start" font-style="italic" font-weight="normal" fill="#151515" stroke="#151515" stroke-width="0.2" textLength="17.50" lengthAdjust="spacingAndGlyphs">TERT</text>
<text x="112.20" y="26.60" font-size="8.2" text-anchor="start" font-style="normal" font-weight="normal" fill="#151515" stroke="#151515" stroke-width="0.2" textLength="17.80" lengthAdjust="spacingAndGlyphs">n=76</text>
<circle cx="82.2" cy="35.70" r="2.3" fill="#3c5896"/>
<text x="88.00" y="38.15" font-size="8.2" text-anchor="start" font-style="italic" font-weight="normal" fill="#151515" stroke="#151515" stroke-width="0.2" textLength="9.50" lengthAdjust="spacingAndGlyphs">TR</text>
<text x="112.20" y="38.15" font-size="8.2" text-anchor="start" font-style="normal" font-weight="normal" fill="#151515" stroke="#151515" stroke-width="0.2" textLength="17.80" lengthAdjust="spacingAndGlyphs">n=21</text>
<circle cx="82.2" cy="47.25" r="2.3" fill="#52a540"/>
<text x="88.00" y="49.70" font-size="8.2" text-anchor="start" font-style="italic" font-weight="normal" fill="#151515" stroke="#151515" stroke-width="0.2" textLength="20.50" lengthAdjust="spacingAndGlyphs">RTEL1</text>
<text x="112.20" y="49.70" font-size="8.2" text-anchor="start" font-style="normal" font-weight="normal" fill="#151515" stroke="#151515" stroke-width="0.2" textLength="17.80" lengthAdjust="spacingAndGlyphs">n=18</text>
<circle cx="82.2" cy="58.80" r="2.3" fill="#5ba8e0"/>
<text x="88.00" y="61.25" font-size="8.2" text-anchor="start" font-style="italic" font-weight="normal" fill="#151515" stroke="#151515" stroke-width="0.2" textLength="19.00" lengthAdjust="spacingAndGlyphs">DKC1</text>
<text x="112.20" y="61.25" font-size="8.2" text-anchor="start" font-style="normal" font-weight="normal" fill="#151515" stroke="#151515" stroke-width="0.2" textLength="17.80" lengthAdjust="spacingAndGlyphs">n=15</text>
<circle cx="82.2" cy="70.35" r="2.3" fill="#cf8575"/>
<text x="88.00" y="72.80" font-size="8.2" text-anchor="start" font-style="italic" font-weight="normal" fill="#151515" stroke="#151515" stroke-width="0.2" textLength="18.50" lengthAdjust="spacingAndGlyphs">NAF1</text>
<text x="112.20" y="72.80" font-size="8.2" text-anchor="start" font-style="normal" font-weight="normal" fill="#151515" stroke="#151515" stroke-width="0.2" textLength="13.00" lengthAdjust="spacingAndGlyphs">n=3</text>
<circle cx="143.4" cy="24.15" r="2.3" fill="#a4b684"/>
<text x="148.80" y="26.60" font-size="8.2" text-anchor="start" font-style="italic" font-weight="normal" fill="#151515" stroke="#151515" stroke-width="0.2" textLength="22.50" lengthAdjust="spacingAndGlyphs">TINF2</text>
<text x="184.70" y="26.60" font-size="8.2" text-anchor="start" font-style="normal" font-weight="normal" fill="#151515" stroke="#151515" stroke-width="0.2" textLength="13.00" lengthAdjust="spacingAndGlyphs">n=3</text>
<circle cx="143.4" cy="35.70" r="2.3" fill="#a8062c"/>
<text x="148.80" y="38.15" font-size="8.2" text-anchor="start" font-style="italic" font-weight="normal" fill="#151515" stroke="#151515" stroke-width="0.2" textLength="30.00" lengthAdjust="spacingAndGlyphs">ZCCHC8</text>
<text x="184.70" y="38.15" font-size="8.2" text-anchor="start" font-style="normal" font-weight="normal" fill="#151515" stroke="#151515" stroke-width="0.2" textLength="13.00" lengthAdjust="spacingAndGlyphs">n=3</text>
<circle cx="143.4" cy="47.25" r="2.3" fill="#8c86c4"/>
<text x="148.80" y="49.70" font-size="8.2" text-anchor="start" font-style="italic" font-weight="normal" fill="#151515" stroke="#151515" stroke-width="0.2" textLength="20.00" lengthAdjust="spacingAndGlyphs">PARN</text>
<text x="184.70" y="49.70" font-size="8.2" text-anchor="start" font-style="normal" font-weight="normal" fill="#151515" stroke="#151515" stroke-width="0.2" textLength="13.00" lengthAdjust="spacingAndGlyphs">n=2</text>
<circle cx="143.4" cy="58.80" r="2.3" fill="#e08e1c"/>
<text x="148.80" y="61.25" font-size="8.2" text-anchor="start" font-style="normal" font-weight="normal" fill="#151515" stroke="#151515" stroke-width="0.2" textLength="32.00" lengthAdjust="spacingAndGlyphs">Unknown</text>
<text x="184.70" y="61.25" font-size="8.2" text-anchor="start" font-style="normal" font-weight="normal" fill="#151515" stroke="#151515" stroke-width="0.2" textLength="17.80" lengthAdjust="spacingAndGlyphs">n=35</text>
<circle cx="157.4" cy="136.2" r="2.2" fill="#8c86c4"/>
<circle cx="211.2" cy="139.2" r="2.2" fill="#8c86c4"/>
<circle cx="131.9" cy="140.3" r="2.2" fill="#e08e1c"/>
<circle cx="59.0" cy="123.8" r="2.2" fill="#3c5896"/>
<circle cx="72.4" cy="134.9" r="2.2" fill="#3c5896"/>
<circle cx="74.3" cy="133.0" r="2.2" fill="#3c5896"/>
<circle cx="90.4" cy="131.6" r="2.2" fill="#3c5896"/>
<circle cx="111.8" cy="129.0" r="2.2" fill="#3c5896"/>
<circle cx="120.5" cy="125.3" r="2.2" fill="#3c5896"/>
<circle cx="118.2" cy="129.3" r="2.2" fill="#3c5896"/>
<circle cx="116.5" cy="138.6" r="2.2" fill="#3c5896"/>
<circle cx="131.9" cy="136.2" r="2.2" fill="#3c5896"/>
<circle cx="136.0" cy="141.1" r="2.2" fill="#3c5896"/>
<circle cx="147.0" cy="137.2" r="2.2" fill="#3c5896"/>
<circle cx="152.2" cy="139.7" r="2.2" fill="#3c5896"/>
<circle cx="160.3" cy="129.9" r="2.2" fill="#3c5896"/>
<circle cx="166.8" cy="145.5" r="2.2" fill="#3c5896"/>
<circle cx="178.1" cy="130.5" r="2.2" fill="#3c5896"/>
<circle cx="180.4" cy="124.1" r="2.2" fill="#3c5896"/>
<circle cx="184.5" cy="135.1" r="2.2" fill="#3c5896"/>
<circle cx="48.1" cy="123.3" r="2.2" fill="#52a540"/>
<circle cx="85.6" cy="136.8" r="2.2" fill="#52a540"/>
<circle cx="100.8" cy="136.2" r="2.2" fill="#52a540"/>
<circle cx="111.8" cy="124.7" r="2.2" fill="#52a540"/>
<circle cx="144.7" cy="137.6" r="2.2" fill="#52a540"/>
<circle cx="147.2" cy="146.3" r="2.2" fill="#52a540"/>
<circle cx="154.5" cy="136.2" r="2.2" fill="#52a540"/>
<circle cx="160.3" cy="142.6" r="2.2" fill="#52a540"/>
<circle cx="172.5" cy="139.4" r="2.2" fill="#52a540"/>
<circle cx="193.7" cy="128.7" r="2.2" fill="#52a540"/>
<circle cx="189.1" cy="144.8" r="2.2" fill="#52a540"/>
<circle cx="48.1" cy="110.8" r="2.2" fill="#5ba8e0"/>
<circle cx="52.3" cy="127.2" r="2.2" fill="#5ba8e0"/>
<circle cx="68.0" cy="123.2" r="2.2" fill="#5ba8e0"/>
<circle cx="72.4" cy="129.9" r="2.2" fill="#5ba8e0"/>
<circle cx="77.0" cy="132.8" r="2.2" fill="#5ba8e0"/>
<circle cx="81.0" cy="111.0" r="2.2" fill="#5ba8e0"/>
<circle cx="83.5" cy="132.2" r="2.2" fill="#5ba8e0"/>
<circle cx="100.8" cy="138.6" r="2.2" fill="#5ba8e0"/>
<circle cx="121.7" cy="135.7" r="2.2" fill="#5ba8e0"/>
<circle cx="120.5" cy="139.7" r="2.2" fill="#5ba8e0"/>
<circle cx="118.2" cy="143.8" r="2.2" fill="#5ba8e0"/>
<circle cx="136.0" cy="129.3" r="2.2" fill="#5ba8e0"/>
<circle cx="154.5" cy="140.9" r="2.2" fill="#5ba8e0"/>
<circle cx="215.0" cy="132.0" r="2.2" fill="#3c5896"/>
<circle cx="48.4" cy="116.0" r="2.2" fill="#471a62"/>
<circle cx="48.4" cy="118.3" r="2.2" fill="#471a62"/>
<circle cx="48.4" cy="120.6" r="2.2" fill="#471a62"/>
<circle cx="61.4" cy="126.8" r="2.2" fill="#471a62"/>
<circle cx="63.4" cy="129.1" r="2.2" fill="#471a62"/>
<circle cx="63.3" cy="144.8" r="2.2" fill="#471a62"/>
<circle cx="83.5" cy="133.9" r="2.2" fill="#471a62"/>
<circle cx="87.9" cy="123.8" r="2.2" fill="#471a62"/>
<circle cx="85.2" cy="126.4" r="2.2" fill="#471a62"/>
<circle cx="89.8" cy="126.4" r="2.2" fill="#471a62"/>
<circle cx="90.4" cy="129.9" r="2.2" fill="#471a62"/>
<circle cx="94.5" cy="121.2" r="2.2" fill="#471a62"/>
<circle cx="94.5" cy="131.0" r="2.2" fill="#471a62"/>
<circle cx="96.8" cy="126.4" r="2.2" fill="#471a62"/>
<circle cx="96.2" cy="129.3" r="2.2" fill="#471a62"/>
<circle cx="100.8" cy="128.7" r="2.2" fill="#471a62"/>
<circle cx="105.2" cy="128.7" r="2.2" fill="#471a62"/>
<circle cx="120.7" cy="117.7" r="2.2" fill="#471a62"/>
<circle cx="125.1" cy="122.9" r="2.2" fill="#471a62"/>
<circle cx="120.5" cy="131.6" r="2.2" fill="#471a62"/>
<circle cx="116.5" cy="133.7" r="2.2" fill="#471a62"/>
<circle cx="125.1" cy="135.1" r="2.2" fill="#471a62"/>
<circle cx="123.4" cy="142.0" r="2.2" fill="#471a62"/>
<circle cx="125.4" cy="143.8" r="2.2" fill="#471a62"/>
<circle cx="131.9" cy="138.0" r="2.2" fill="#471a62"/>
<circle cx="138.3" cy="139.7" r="2.2" fill="#471a62"/>
<circle cx="140.6" cy="124.7" r="2.2" fill="#471a62"/>
<circle cx="140.6" cy="131.6" r="2.2" fill="#471a62"/>
<circle cx="142.4" cy="133.4" r="2.2" fill="#471a62"/>
<circle cx="140.6" cy="134.5" r="2.2" fill="#471a62"/>
<circle cx="144.7" cy="129.9" r="2.2" fill="#471a62"/>
<circle cx="147.6" cy="124.7" r="2.2" fill="#471a62"/>
<circle cx="146.4" cy="128.1" r="2.2" fill="#471a62"/>
<circle cx="149.9" cy="132.2" r="2.2" fill="#471a62"/>
<circle cx="151.6" cy="134.5" r="2.2" fill="#471a62"/>
<circle cx="153.4" cy="129.9" r="2.2" fill="#471a62"/>
<circle cx="155.7" cy="124.7" r="2.2" fill="#471a62"/>
<circle cx="155.7" cy="127.6" r="2.2" fill="#471a62"/>
<circle cx="155.1" cy="131.6" r="2.2" fill="#471a62"/>
<circle cx="158.6" cy="132.2" r="2.2" fill="#471a62"/>
<circle cx="159.7" cy="138.6" r="2.2" fill="#471a62"/>
<circle cx="162.6" cy="132.8" r="2.2" fill="#471a62"/>
<circle cx="163.2" cy="139.7" r="2.2" fill="#471a62"/>
<circle cx="166.7" cy="138.6" r="2.2" fill="#471a62"/>
<circle cx="171.3" cy="120.6" r="2.2" fill="#471a62"/>
<circle cx="171.3" cy="122.9" r="2.2" fill="#471a62"/>
<circle cx="171.3" cy="133.9" r="2.2" fill="#471a62"/>
<circle cx="169.0" cy="137.4" r="2.2" fill="#471a62"/>
<circle cx="175.0" cy="145.3" r="2.2" fill="#471a62"/>
<circle cx="181.0" cy="127.6" r="2.2" fill="#471a62"/>
<circle cx="182.7" cy="128.1" r="2.2" fill="#471a62"/>
<circle cx="175.8" cy="139.1" r="2.2" fill="#471a62"/>
<circle cx="189.1" cy="124.1" r="2.2" fill="#471a62"/>
<circle cx="187.4" cy="133.9" r="2.2" fill="#471a62"/>
<circle cx="190.3" cy="134.5" r="2.2" fill="#471a62"/>
<circle cx="192.6" cy="133.9" r="2.2" fill="#471a62"/>
<circle cx="196.0" cy="130.5" r="2.2" fill="#471a62"/>
<circle cx="194.9" cy="135.7" r="2.2" fill="#471a62"/>
<circle cx="204.7" cy="131.6" r="2.2" fill="#471a62"/>
<circle cx="213.4" cy="131.1" r="2.2" fill="#471a62"/>
<circle cx="215.5" cy="129.0" r="2.2" fill="#471a62"/>
<circle cx="224.4" cy="138.0" r="2.2" fill="#471a62"/>
<circle cx="162.5" cy="139.6" r="2.2" fill="#471a62"/>
<circle cx="166.0" cy="142.2" r="2.2" fill="#471a62"/>
<circle cx="160.7" cy="137.0" r="2.2" fill="#471a62"/>
<circle cx="151.1" cy="135.2" r="2.2" fill="#471a62"/>
<circle cx="150.2" cy="130.9" r="2.2" fill="#471a62"/>
<circle cx="155.5" cy="133.5" r="2.2" fill="#471a62"/>
<circle cx="52.3" cy="136.5" r="2.2" fill="#a4b684"/>
<circle cx="136.0" cy="134.9" r="2.2" fill="#a4b684"/>
<circle cx="165.5" cy="135.1" r="2.2" fill="#cf8575"/>
<circle cx="170.1" cy="142.6" r="2.2" fill="#cf8575"/>
<circle cx="87.9" cy="133.9" r="2.2" fill="#a8062c"/>
<circle cx="65.8" cy="119.5" r="2.2" fill="#e08e1c"/>
<circle cx="70.0" cy="138.2" r="2.2" fill="#e08e1c"/>
<circle cx="78.7" cy="116.0" r="2.2" fill="#e08e1c"/>
<circle cx="81.1" cy="140.9" r="2.2" fill="#e08e1c"/>
<circle cx="92.7" cy="127.0" r="2.2" fill="#e08e1c"/>
<circle cx="157.4" cy="140.9" r="2.2" fill="#e08e1c"/>
<circle cx="166.7" cy="132.8" r="2.2" fill="#e08e1c"/>
<circle cx="171.3" cy="127.6" r="2.2" fill="#e08e1c"/>
<circle cx="174.5" cy="131.8" r="2.2" fill="#e08e1c"/>
<circle cx="178.7" cy="134.5" r="2.2" fill="#e08e1c"/>
<circle cx="183.9" cy="126.4" r="2.2" fill="#e08e1c"/>
<circle cx="186.8" cy="120.0" r="2.2" fill="#e08e1c"/>
<circle cx="189.1" cy="127.0" r="2.2" fill="#e08e1c"/>
<circle cx="183.9" cy="131.6" r="2.2" fill="#e08e1c"/>
<circle cx="189.1" cy="139.7" r="2.2" fill="#e08e1c"/>
<circle cx="200.1" cy="132.8" r="2.2" fill="#e08e1c"/>
<circle cx="200.1" cy="139.1" r="2.2" fill="#e08e1c"/>
<circle cx="213.4" cy="134.9" r="2.2" fill="#e08e1c"/>
<circle cx="176.0" cy="133.0" r="2.2" fill="#e08e1c"/>
<circle cx="180.5" cy="135.0" r="2.2" fill="#e08e1c"/>
<circle cx="174.5" cy="136.5" r="2.2" fill="#e08e1c"/>
<circle cx="200.1" cy="135.7" r="2.2" fill="#471a62"/>
<circle cx="418.9" cy="44.2" r="2.3" fill="#474e5f"/>
<circle cx="418.9" cy="55.6" r="2.3" fill="#aa0a2b"/>
<text x="424.90" y="47.00" font-size="8.3" text-anchor="start" font-style="normal" font-weight="normal" fill="#151515" stroke="#151515" stroke-width="0.2" textLength="35.10" lengthAdjust="spacingAndGlyphs">No cancer</text>
<text x="463.80" y="47.00" font-size="8.3" text-anchor="start" font-style="normal" font-weight="normal" fill="#151515" stroke="#151515" stroke-width="0.2" textLength="22.40" lengthAdjust="spacingAndGlyphs">n=154</text>
<text x="424.90" y="58.10" font-size="8.3" text-anchor="start" font-style="normal" font-weight="normal" fill="#151515" stroke="#151515" stroke-width="0.2" textLength="24.30" lengthAdjust="spacingAndGlyphs">Cancer</text>
<text x="463.80" y="58.10" font-size="8.3" text-anchor="start" font-style="normal" font-weight="normal" fill="#151515" stroke="#151515" stroke-width="0.2" textLength="18.20" lengthAdjust="spacingAndGlyphs">n=22</text>
<circle cx="307.1" cy="110.8" r="2.2" fill="#474e5f"/>
<circle cx="307.4" cy="116.0" r="2.2" fill="#474e5f"/>
<circle cx="307.4" cy="118.3" r="2.2" fill="#474e5f"/>
<circle cx="307.4" cy="120.6" r="2.2" fill="#474e5f"/>
<circle cx="307.1" cy="123.3" r="2.2" fill="#474e5f"/>
<circle cx="311.3" cy="127.2" r="2.2" fill="#474e5f"/>
<circle cx="311.3" cy="136.5" r="2.2" fill="#474e5f"/>
<circle cx="318.0" cy="123.8" r="2.2" fill="#474e5f"/>
<circle cx="320.4" cy="126.8" r="2.2" fill="#474e5f"/>
<circle cx="322.4" cy="129.1" r="2.2" fill="#474e5f"/>
<circle cx="324.8" cy="119.5" r="2.2" fill="#474e5f"/>
<circle cx="327.0" cy="123.2" r="2.2" fill="#474e5f"/>
<circle cx="322.3" cy="144.8" r="2.2" fill="#474e5f"/>
<circle cx="331.4" cy="129.9" r="2.2" fill="#474e5f"/>
<circle cx="331.4" cy="134.9" r="2.2" fill="#474e5f"/>
<circle cx="333.3" cy="133.0" r="2.2" fill="#474e5f"/>
<circle cx="336.0" cy="132.8" r="2.2" fill="#474e5f"/>
<circle cx="329.0" cy="138.2" r="2.2" fill="#474e5f"/>
<circle cx="340.0" cy="111.0" r="2.2" fill="#474e5f"/>
<circle cx="337.7" cy="116.0" r="2.2" fill="#474e5f"/>
<circle cx="340.1" cy="140.9" r="2.2" fill="#474e5f"/>
<circle cx="342.5" cy="132.2" r="2.2" fill="#474e5f"/>
<circle cx="342.5" cy="133.9" r="2.2" fill="#474e5f"/>
<circle cx="346.9" cy="133.9" r="2.2" fill="#474e5f"/>
<circle cx="344.6" cy="136.8" r="2.2" fill="#474e5f"/>
<circle cx="346.9" cy="123.8" r="2.2" fill="#474e5f"/>
<circle cx="344.2" cy="126.4" r="2.2" fill="#474e5f"/>
<circle cx="348.8" cy="126.4" r="2.2" fill="#474e5f"/>
<circle cx="351.7" cy="127.0" r="2.2" fill="#474e5f"/>
<circle cx="349.4" cy="129.9" r="2.2" fill="#474e5f"/>
<circle cx="349.4" cy="131.6" r="2.2" fill="#474e5f"/>
<circle cx="353.5" cy="121.2" r="2.2" fill="#474e5f"/>
<circle cx="353.5" cy="131.0" r="2.2" fill="#474e5f"/>
<circle cx="355.8" cy="126.4" r="2.2" fill="#474e5f"/>
<circle cx="355.2" cy="129.3" r="2.2" fill="#474e5f"/>
<circle cx="359.8" cy="128.7" r="2.2" fill="#474e5f"/>
<circle cx="364.2" cy="128.7" r="2.2" fill="#474e5f"/>
<circle cx="359.8" cy="136.2" r="2.2" fill="#474e5f"/>
<circle cx="359.8" cy="138.6" r="2.2" fill="#474e5f"/>
<circle cx="370.8" cy="124.7" r="2.2" fill="#474e5f"/>
<circle cx="370.8" cy="129.0" r="2.2" fill="#474e5f"/>
<circle cx="379.7" cy="117.7" r="2.2" fill="#474e5f"/>
<circle cx="384.1" cy="122.9" r="2.2" fill="#474e5f"/>
<circle cx="379.5" cy="125.3" r="2.2" fill="#474e5f"/>
<circle cx="377.2" cy="129.3" r="2.2" fill="#474e5f"/>
<circle cx="379.5" cy="131.6" r="2.2" fill="#474e5f"/>
<circle cx="375.5" cy="133.7" r="2.2" fill="#474e5f"/>
<circle cx="384.1" cy="135.1" r="2.2" fill="#474e5f"/>
<circle cx="375.5" cy="138.6" r="2.2" fill="#474e5f"/>
<circle cx="380.7" cy="135.7" r="2.2" fill="#474e5f"/>
<circle cx="379.5" cy="139.7" r="2.2" fill="#474e5f"/>
<circle cx="377.2" cy="143.8" r="2.2" fill="#474e5f"/>
<circle cx="382.4" cy="142.0" r="2.2" fill="#474e5f"/>
<circle cx="384.4" cy="143.8" r="2.2" fill="#474e5f"/>
<circle cx="395.0" cy="129.3" r="2.2" fill="#474e5f"/>
<circle cx="395.0" cy="134.9" r="2.2" fill="#474e5f"/>
<circle cx="390.9" cy="136.2" r="2.2" fill="#474e5f"/>
<circle cx="390.9" cy="138.0" r="2.2" fill="#474e5f"/>
<circle cx="390.9" cy="140.3" r="2.2" fill="#474e5f"/>
<circle cx="395.0" cy="141.1" r="2.2" fill="#474e5f"/>
<circle cx="397.3" cy="139.7" r="2.2" fill="#474e5f"/>
<circle cx="399.6" cy="124.7" r="2.2" fill="#474e5f"/>
<circle cx="399.6" cy="131.6" r="2.2" fill="#474e5f"/>
<circle cx="401.4" cy="133.4" r="2.2" fill="#474e5f"/>
<circle cx="399.6" cy="134.5" r="2.2" fill="#474e5f"/>
<circle cx="403.7" cy="129.9" r="2.2" fill="#474e5f"/>
<circle cx="406.6" cy="124.7" r="2.2" fill="#474e5f"/>
<circle cx="405.4" cy="128.1" r="2.2" fill="#474e5f"/>
<circle cx="403.7" cy="137.6" r="2.2" fill="#474e5f"/>
<circle cx="406.0" cy="137.2" r="2.2" fill="#474e5f"/>
<circle cx="406.2" cy="146.3" r="2.2" fill="#474e5f"/>
<circle cx="408.9" cy="132.2" r="2.2" fill="#474e5f"/>
<circle cx="410.6" cy="134.5" r="2.2" fill="#474e5f"/>
<circle cx="411.2" cy="139.7" r="2.2" fill="#474e5f"/>
<circle cx="413.5" cy="140.9" r="2.2" fill="#474e5f"/>
<circle cx="412.4" cy="129.9" r="2.2" fill="#474e5f"/>
<circle cx="414.7" cy="124.7" r="2.2" fill="#474e5f"/>
<circle cx="414.7" cy="127.6" r="2.2" fill="#474e5f"/>
<circle cx="414.1" cy="131.6" r="2.2" fill="#474e5f"/>
<circle cx="413.5" cy="136.2" r="2.2" fill="#474e5f"/>
<circle cx="417.6" cy="132.2" r="2.2" fill="#474e5f"/>
<circle cx="419.3" cy="129.9" r="2.2" fill="#474e5f"/>
<circle cx="416.4" cy="136.2" r="2.2" fill="#474e5f"/>
<circle cx="416.4" cy="140.9" r="2.2" fill="#474e5f"/>
<circle cx="418.7" cy="138.6" r="2.2" fill="#474e5f"/>
<circle cx="421.6" cy="132.8" r="2.2" fill="#474e5f"/>
<circle cx="419.3" cy="142.6" r="2.2" fill="#474e5f"/>
<circle cx="424.5" cy="135.1" r="2.2" fill="#474e5f"/>
<circle cx="425.7" cy="132.8" r="2.2" fill="#474e5f"/>
<circle cx="422.2" cy="139.7" r="2.2" fill="#474e5f"/>
<circle cx="425.7" cy="138.6" r="2.2" fill="#474e5f"/>
<circle cx="425.8" cy="145.5" r="2.2" fill="#474e5f"/>
<circle cx="430.3" cy="120.6" r="2.2" fill="#474e5f"/>
<circle cx="430.3" cy="122.9" r="2.2" fill="#474e5f"/>
<circle cx="430.3" cy="127.6" r="2.2" fill="#474e5f"/>
<circle cx="430.3" cy="133.9" r="2.2" fill="#474e5f"/>
<circle cx="431.5" cy="139.4" r="2.2" fill="#474e5f"/>
<circle cx="429.1" cy="142.6" r="2.2" fill="#474e5f"/>
<circle cx="428.0" cy="137.4" r="2.2" fill="#474e5f"/>
<circle cx="433.5" cy="131.8" r="2.2" fill="#474e5f"/>
<circle cx="434.0" cy="145.3" r="2.2" fill="#474e5f"/>
<circle cx="437.1" cy="130.5" r="2.2" fill="#474e5f"/>
<circle cx="437.7" cy="134.5" r="2.2" fill="#474e5f"/>
<circle cx="439.4" cy="124.1" r="2.2" fill="#474e5f"/>
<circle cx="440.0" cy="127.6" r="2.2" fill="#474e5f"/>
<circle cx="441.7" cy="128.1" r="2.2" fill="#474e5f"/>
<circle cx="442.9" cy="126.4" r="2.2" fill="#474e5f"/>
<circle cx="434.8" cy="139.1" r="2.2" fill="#474e5f"/>
<circle cx="445.8" cy="120.0" r="2.2" fill="#474e5f"/>
<circle cx="448.1" cy="124.1" r="2.2" fill="#474e5f"/>
<circle cx="448.1" cy="127.0" r="2.2" fill="#474e5f"/>
<circle cx="442.9" cy="131.6" r="2.2" fill="#474e5f"/>
<circle cx="443.5" cy="135.1" r="2.2" fill="#474e5f"/>
<circle cx="446.4" cy="133.9" r="2.2" fill="#474e5f"/>
<circle cx="449.3" cy="134.5" r="2.2" fill="#474e5f"/>
<circle cx="451.6" cy="133.9" r="2.2" fill="#474e5f"/>
<circle cx="452.7" cy="128.7" r="2.2" fill="#474e5f"/>
<circle cx="455.0" cy="130.5" r="2.2" fill="#474e5f"/>
<circle cx="453.9" cy="135.7" r="2.2" fill="#474e5f"/>
<circle cx="448.1" cy="139.7" r="2.2" fill="#474e5f"/>
<circle cx="448.1" cy="144.8" r="2.2" fill="#474e5f"/>
<circle cx="459.1" cy="132.8" r="2.2" fill="#474e5f"/>
<circle cx="459.1" cy="135.7" r="2.2" fill="#474e5f"/>
<circle cx="459.1" cy="139.1" r="2.2" fill="#474e5f"/>
<circle cx="463.7" cy="131.6" r="2.2" fill="#474e5f"/>
<circle cx="472.4" cy="131.1" r="2.2" fill="#474e5f"/>
<circle cx="474.5" cy="129.0" r="2.2" fill="#474e5f"/>
<circle cx="474.0" cy="132.0" r="2.2" fill="#474e5f"/>
<circle cx="472.4" cy="134.9" r="2.2" fill="#474e5f"/>
<circle cx="470.2" cy="139.2" r="2.2" fill="#474e5f"/>
<circle cx="483.4" cy="138.0" r="2.2" fill="#474e5f"/>
<circle cx="421.5" cy="139.6" r="2.2" fill="#474e5f"/>
<circle cx="425.0" cy="142.2" r="2.2" fill="#474e5f"/>
<circle cx="419.7" cy="137.0" r="2.2" fill="#474e5f"/>
<circle cx="410.1" cy="135.2" r="2.2" fill="#474e5f"/>
<circle cx="409.2" cy="130.9" r="2.2" fill="#474e5f"/>
<circle cx="414.5" cy="133.5" r="2.2" fill="#474e5f"/>
<circle cx="435.0" cy="133.0" r="2.2" fill="#474e5f"/>
<circle cx="439.5" cy="135.0" r="2.2" fill="#474e5f"/>
<circle cx="433.5" cy="136.5" r="2.2" fill="#474e5f"/>
<circle cx="331.4" cy="130.2" r="2.2" fill="#aa0a2b"/>
<circle cx="359.8" cy="138.0" r="2.2" fill="#aa0a2b"/>
<circle cx="379.5" cy="139.7" r="2.2" fill="#aa0a2b"/>
<circle cx="377.2" cy="143.8" r="2.2" fill="#aa0a2b"/>
<circle cx="395.0" cy="129.3" r="2.2" fill="#aa0a2b"/>
<circle cx="390.4" cy="136.2" r="2.2" fill="#aa0a2b"/>
<circle cx="414.7" cy="128.7" r="2.2" fill="#aa0a2b"/>
<circle cx="410.6" cy="136.8" r="2.2" fill="#aa0a2b"/>
<circle cx="412.4" cy="135.7" r="2.2" fill="#aa0a2b"/>
<circle cx="419.3" cy="141.5" r="2.2" fill="#aa0a2b"/>
<circle cx="421.6" cy="132.2" r="2.2" fill="#aa0a2b"/>
<circle cx="424.0" cy="134.5" r="2.2" fill="#aa0a2b"/>
<circle cx="430.3" cy="120.3" r="2.2" fill="#aa0a2b"/>
<circle cx="430.3" cy="128.1" r="2.2" fill="#aa0a2b"/>
<circle cx="430.3" cy="141.8" r="2.2" fill="#aa0a2b"/>
<circle cx="434.8" cy="135.1" r="2.2" fill="#aa0a2b"/>
<circle cx="438.8" cy="129.9" r="2.2" fill="#aa0a2b"/>
<circle cx="441.2" cy="126.4" r="2.2" fill="#aa0a2b"/>
<circle cx="445.8" cy="133.9" r="2.2" fill="#aa0a2b"/>
<circle cx="459.1" cy="133.9" r="2.2" fill="#aa0a2b"/>
<path d="M133.5,295.3 L170.20,358.87 A73.4,73.4 0 1 1 133.50,221.90 Z" fill="#52286a" stroke="#fff" stroke-width="1.1" stroke-linejoin="miter"/>
<path d="M133.5,295.3 L133.50,221.90 A73.4,73.4 0 0 1 206.90,295.30 Z" fill="#adbd88" stroke="#fff" stroke-width="1.1" stroke-linejoin="miter"/>
<path d="M133.5,295.3 L206.90,295.30 A73.4,73.4 0 0 1 170.20,358.87 Z" fill="#c8077b" stroke="#fff" stroke-width="1.1" stroke-linejoin="miter"/>
<text x="142.60" y="265.20" font-size="8.8" text-anchor="start" font-style="normal" font-weight="normal" fill="#222" stroke="#222" stroke-width="0.12" textLength="44.60" lengthAdjust="spacingAndGlyphs">Solid Tumor</text>
<text x="147.00" y="275.00" font-size="8.8" text-anchor="start" font-style="italic" font-weight="normal" fill="#222" stroke="#222" stroke-width="0.12" textLength="35.70" lengthAdjust="spacingAndGlyphs">n=6, 25%</text>
<text x="164.20" y="305.70" font-size="8.8" text-anchor="start" font-style="normal" font-weight="normal" fill="#fff" stroke="#fff" stroke-width="0.08" textLength="21.60" lengthAdjust="spacingAndGlyphs">Acute</text>
<text x="159.70" y="315.60" font-size="8.8" text-anchor="start" font-style="normal" font-weight="normal" fill="#fff" stroke="#fff" stroke-width="0.08" textLength="30.60" lengthAdjust="spacingAndGlyphs">Myeloid</text>
<text x="157.00" y="325.40" font-size="8.8" text-anchor="start" font-style="normal" font-weight="normal" fill="#fff" stroke="#fff" stroke-width="0.08" textLength="36.00" lengthAdjust="spacingAndGlyphs">Leukemia</text>
<text x="157.90" y="335.40" font-size="8.8" text-anchor="start" font-style="italic" font-weight="normal" fill="#fff" stroke="#fff" stroke-width="0.08" textLength="35.10" lengthAdjust="spacingAndGlyphs">n=4, 17%</text>
<text x="67.00" y="297.70" font-size="8.8" text-anchor="start" font-style="normal" font-weight="normal" fill="#fff" stroke="#fff" stroke-width="0.08" textLength="59.60" lengthAdjust="spacingAndGlyphs">Myelodysplastic</text>
<text x="66.60" y="307.20" font-size="8.8" text-anchor="start" font-style="normal" font-weight="normal" fill="#fff" stroke="#fff" stroke-width="0.08" textLength="63.10" lengthAdjust="spacingAndGlyphs">Syndrome (MDS)</text>
<text x="78.00" y="317.30" font-size="8.8" text-anchor="start" font-style="italic" font-weight="normal" fill="#fff" stroke="#fff" stroke-width="0.08" textLength="40.20" lengthAdjust="spacingAndGlyphs">n=14, 58%</text>
<text x="86.50" y="379.60" font-size="8.6" text-anchor="start" font-style="italic" font-weight="normal" fill="#222" stroke="#222" stroke-width="0.15" textLength="94.30" lengthAdjust="spacingAndGlyphs">n=24 cases in 23 patients</text>
<rect x="406.2" y="228.0" width="5.3" height="5.3" fill="#b8742a"/>
<rect x="406.2" y="239.2" width="5.3" height="5.3" fill="#aa0a2b"/>
<text x="412.80" y="244.80" font-size="9.0" text-anchor="start" font-style="normal" font-weight="normal" fill="#151515" stroke="#151515" stroke-width="0.2" textLength="2.90" lengthAdjust="spacingAndGlyphs">/</text>
<circle cx="419.6" cy="241.9" r="2.65" fill="#aa0a2b"/>
<text x="425.80" y="233.20" font-size="8.3" text-anchor="start" font-style="normal" font-weight="normal" fill="#151515" stroke="#151515" stroke-width="0.2" textLength="41.10" lengthAdjust="spacingAndGlyphs">Solid Tumor</text>
<text x="470.00" y="233.20" font-size="8.3" text-anchor="start" font-style="normal" font-weight="normal" fill="#151515" stroke="#151515" stroke-width="0.2" textLength="13.80" lengthAdjust="spacingAndGlyphs">n=5</text>
<text x="425.80" y="244.40" font-size="8.3" text-anchor="start" font-style="normal" font-weight="normal" fill="#151515" stroke="#151515" stroke-width="0.2" textLength="35.70" lengthAdjust="spacingAndGlyphs">MDS/AML</text>
<text x="470.00" y="244.40" font-size="8.3" text-anchor="start" font-style="normal" font-weight="normal" fill="#151515" stroke="#151515" stroke-width="0.2" textLength="18.50" lengthAdjust="spacingAndGlyphs">n=17</text>
<text x="322.20" y="311.60" font-size="8.2" text-anchor="start" font-style="italic" font-weight="normal" fill="#5b6275" stroke="#5b6275" stroke-width="0.1" textLength="19.90" lengthAdjust="spacingAndGlyphs">DKC1</text>
<text x="344.70" y="319.80" font-size="8.2" text-anchor="start" font-style="italic" font-weight="normal" fill="#5b6275" stroke="#5b6275" stroke-width="0.1" textLength="19.30" lengthAdjust="spacingAndGlyphs">DKC1</text>
<text x="367.30" y="322.40" font-size="8.2" text-anchor="start" font-style="italic" font-weight="normal" fill="#5b6275" stroke="#5b6275" stroke-width="0.1" textLength="20.10" lengthAdjust="spacingAndGlyphs">DKC1</text>
<text x="369.70" y="340.90" font-size="8.2" text-anchor="start" font-style="italic" font-weight="normal" fill="#5b6275" stroke="#5b6275" stroke-width="0.1" textLength="19.30" lengthAdjust="spacingAndGlyphs">DKC1</text>
<text x="378.90" y="311.30" font-size="8.2" text-anchor="start" font-style="italic" font-weight="normal" fill="#5b6275" stroke="#5b6275" stroke-width="0.1" textLength="19.30" lengthAdjust="spacingAndGlyphs">DKC1</text>
<text x="396.30" y="333.10" font-size="8.2" text-anchor="start" font-style="italic" font-weight="normal" fill="#5b6275" stroke="#5b6275" stroke-width="0.1" textLength="19.30" lengthAdjust="spacingAndGlyphs">DKC1</text>
<rect x="358.45" y="321.95" width="5.5" height="5.5" fill="#b8742a"/>
<rect x="378.45" y="323.55" width="5.5" height="5.5" fill="#b8742a"/>
<rect x="376.25" y="327.35" width="5.5" height="5.5" fill="#b8742a"/>
<rect x="393.65" y="312.55" width="5.5" height="5.5" fill="#b8742a"/>
<rect x="419.85" y="315.75" width="5.5" height="5.5" fill="#b8742a"/>
<rect x="329.85" y="314.15" width="5.5" height="5.5" fill="#aa0a2b"/>
<rect x="388.95" y="319.65" width="5.5" height="5.5" fill="#aa0a2b"/>
<rect x="408.95" y="320.45" width="5.5" height="5.5" fill="#aa0a2b"/>
<rect x="413.45" y="312.35" width="5.5" height="5.5" fill="#aa0a2b"/>
<rect x="417.95" y="325.15" width="5.5" height="5.5" fill="#aa0a2b"/>
<rect x="428.95" y="311.65" width="5.5" height="5.5" fill="#aa0a2b"/>
<rect x="428.95" y="325.15" width="5.5" height="5.5" fill="#aa0a2b"/>
<rect x="433.25" y="318.75" width="5.5" height="5.5" fill="#aa0a2b"/>
<rect x="439.95" y="310.25" width="5.5" height="5.5" fill="#aa0a2b"/>
<rect x="457.45" y="317.45" width="5.5" height="5.5" fill="#aa0a2b"/>
<circle cx="413.60" cy="322.10" r="2.9" fill="#aa0a2b"/>
<circle cx="425.20" cy="320.20" r="2.9" fill="#aa0a2b"/>
<circle cx="431.70" cy="306.70" r="2.9" fill="#aa0a2b"/>
<circle cx="440.50" cy="316.40" r="2.9" fill="#aa0a2b"/>
<circle cx="446.90" cy="320.20" r="2.9" fill="#aa0a2b"/>
<rect x="0.5" y="0.5" width="519" height="388" fill="none" stroke="#000" stroke-width="1"/>
</svg></body></html>
